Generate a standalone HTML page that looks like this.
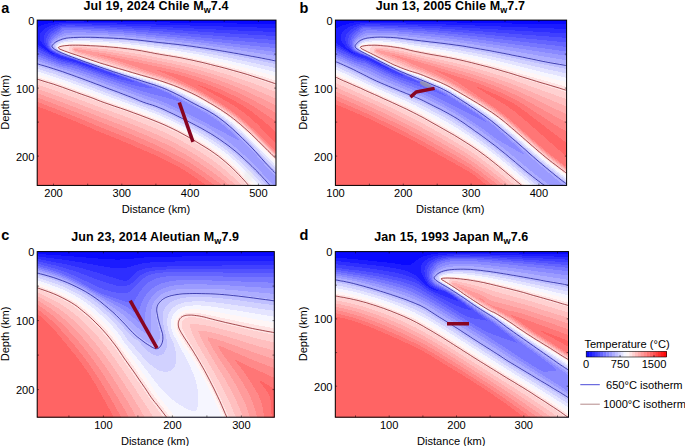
<!DOCTYPE html>
<html><head><meta charset="utf-8"><title>Slab thermal models</title>
<style>
html,body{margin:0;padding:0;background:#fff;overflow:hidden}
svg{display:block}
text{font-family:"Liberation Sans",sans-serif;fill:#000}
.tl{font-size:11.1px}
.al{font-size:11.1px}
.ti{font-size:12.5px;font-weight:bold;letter-spacing:0.11px}
.pl{font-size:14.5px;font-weight:bold}
</style></head><body>
<svg width="685" height="446" viewBox="0 0 685 446">
<defs><filter id="blur" x="-30%" y="-80%" width="160%" height="260%"><feGaussianBlur stdDeviation="0.8"/></filter></defs>
<rect width="685" height="446" fill="#fff"/>
<clipPath id="clipa"><rect x="37.2" y="20.1" width="238.8" height="165.3"/></clipPath>
<g clip-path="url(#clipa)">
<rect x="36.2" y="19.1" width="240.8" height="167.3" fill="#0909ff"/>
<g shape-rendering="crispEdges">
<path fill="#1b1bff" d="M61.9 21.6L71.7 21.4L128.7 21.9L277.2 24.1L277.2 186.6L36.2 186.6L36.2 27.5L42 25.1L47.1 23.6L54.2 22.4L61.9 21.6Z"/>
<path fill="#2e2eff" d="M61.8 23.1L65.7 22.8L71.2 22.8L128.7 23.7L277.2 28.1L277.2 186.6L36.2 186.6L36.2 43.3L48.5 51.6L52.3 53.6L54.7 54.4L54.8 54.1L50.7 51.9L48.2 50L43.1 44.6L41.3 42.1L40 39.6L39.5 37.1L39.7 35.1L40.5 33.1L41.9 31.1L44.2 29.1L46.5 27.6L49.7 26.1L53.2 24.9L57.7 23.8L61.8 23.1ZM55.2 54.5L55.7 54.6L55.2 54.5ZM56.2 55L56.1 55.1L56.7 55.3L57 55.1L56.2 55ZM59.2 56.1L58.9 56.1L59.2 56.1Z"/>
<path fill="#4040ff" d="M66.5 24.1L92.2 24.5L135.7 25.8L230.7 30.2L277.2 32.1L277.2 186.6L36.2 186.6L36.2 45.8L49.5 53.6L53.7 55.6L58.7 57.7L64.7 59.5L72.7 61.3L76.7 62.5L97.1 69.1L98.7 69.4L98.8 69.1L96.2 68.3L93.6 67.1L91.2 66.3L88.6 65.1L78.2 61.4L75.1 60.1L64.2 57L58.2 54.8L54.7 53.2L50.7 50.9L48.5 49.1L46.5 46.6L45.3 44.6L44.4 42.6L43.8 40.6L43.6 39.1L43.8 37.1L44.2 35.6L45.2 33.6L46.3 32.1L47.9 30.6L50 29.1L52.2 27.9L55.2 26.6L58.7 25.3L61.2 24.7L63.7 24.3L66.5 24.1ZM99.2 69.5L99.9 69.6L99.2 69.5Z"/>
<path fill="#5252ff" d="M63.6 25.6L68.7 25.4L81.2 25.6L109.7 26.5L131.7 27.5L160.5 29.1L231.2 33.6L277.2 36.1L277.2 186.6L36.2 186.6L36.2 48.3L53.2 56.8L61.2 60L64.7 61L71.7 62.5L76.7 63.8L102.2 72.3L110.7 74.9L117.9 76.6L119.2 76.7L119.5 76.6L113.9 74.1L85.7 63.6L74.6 59.6L64.7 56.7L59.7 54.9L53.7 52.1L51.7 50.9L50 49.6L48.7 48.1L47.5 46.1L46.9 44.6L46.3 42.6L46.1 40.6L46.3 39.1L46.8 37.1L47.5 35.6L48.5 34.1L49.9 32.6L53.2 30.1L55.8 28.6L60 26.6L61.7 26L63.6 25.6Z"/>
<path fill="#6464ff" d="M62.3 27.1L64.2 26.8L67.7 26.6L81.2 27L109.7 28.1L131.2 29.3L158.7 31.2L231.7 37L277.2 40.1L277.2 186.6L36.2 186.6L36.2 51L52.7 58.4L61.2 61.6L65.2 62.7L71.7 63.8L76.2 65L101.7 73.8L115.2 78L127.2 80.9L133.7 82.1L135.4 82.1L134.7 82L134.4 81.6L128.7 79.1L83.7 62.6L75.2 59.5L61.7 55.2L55.7 52.6L51.7 50.3L50.4 49.1L49.3 47.6L48.6 46.1L48.1 44.6L47.9 43.1L48 41.1L48.8 38.1L50.3 35.6L52.8 33.1L60.3 28.1L62.3 27.1Z"/>
<path fill="#7676ff" d="M62.7 28.1L69.2 27.9L72.7 28.2L81.2 28.3L84.7 28.7L92.2 28.8L95.2 29.1L109.7 29.7L112.7 30L117.2 30.1L131.2 31.1L158.2 33.4L231.7 40.4L277.2 44.2L277.2 186.6L36.2 186.6L36.2 53.4L54.2 61L59.7 63L64.7 64.4L71.7 65.2L76.9 66.6L104.7 76.5L121.2 81.8L132.2 84.8L140.2 86.7L146.2 87.7L152.7 88.5L153.1 88.1L146.3 85.1L128.7 78.6L76.1 59.6L62.2 55L56.2 52.4L53 50.6L50.8 48.6L50.1 47.6L49.5 46.1L49.2 44.6L49.2 43.1L49.4 41.6L49.9 40.1L51.2 37.8L53.2 35.5L55.2 33.9L60 30.6L61 29.6L61.8 28.6L62.7 28.1Z"/>
<path fill="#8989ff" d="M65.2 30.1L68.7 29.8L71.7 30L80.7 30L84.2 30.4L91.2 30.5L94.2 30.9L100.2 31L103.2 31.3L116.7 31.9L119.2 32.3L123.7 32.4L126.2 32.8L136.2 33.5L176.7 37.5L240.7 44.6L277.2 48.2L277.2 186.6L36.2 186.6L36.2 55.8L58.7 64.5L63.2 65.8L71.2 67.4L77.7 69.2L113.2 81.7L139.2 90.4L147.2 92.7L162.7 96.6L176.2 100.5L181.2 101.7L181.7 101.8L182.3 101.6L177.2 98.1L168.9 93.6L163.7 91.2L156.4 88.1L95.2 66.3L76.2 59.4L64.7 55.5L59.9 53.6L54.2 50.8L51.7 48.9L50.8 47.6L50.4 46.6L50.2 45.1L50.2 43.6L51.2 40.9L52.8 38.6L55.2 36.3L63.2 31L65.2 30.1Z"/>
<path fill="#9b9bff" d="M68 32.6L79.2 32.3L89.7 32.6L116.2 33.9L135.7 35.5L176.2 39.6L195.7 41.8L277.2 52.2L277.2 186.6L36.2 186.6L36.2 58.2L58.7 66.3L63.2 67.6L72.7 70L80.2 72.5L143.2 95L156.2 99.3L164.7 102.6L177.2 108.5L194.2 117L207.2 123.7L215 128.1L225.8 133.6L237.2 139.8L239.2 140.8L239.3 140.6L239.2 140.1L234 134.6L226.7 127.9L218.2 121.1L213.2 117.6L206.9 113.6L202.6 111.1L189.7 104.2L177.5 97.1L168.2 92.3L163.7 90.3L156.2 87.3L103.8 69.1L64.7 55.1L59.8 53.1L54.2 50.3L52.6 49.1L51.7 48.1L51.2 47.1L51 46.1L50.9 45.1L51.2 43.7L51.7 42.5L52.7 41L55.2 38.5L59.2 35.9L64.2 33.5L66.2 32.9L68 32.6Z"/>
<path fill="#adadff" d="M76.5 34.6L80.7 34.5L88.7 34.6L105.2 35.3L123.2 36.3L139.7 37.8L171.2 41.2L195.7 44.1L213.2 46.5L244.7 51.1L277.2 56.2L277.2 178.2L265.9 166.1L250.4 148.6L243.7 141.8L235.2 133.7L227.7 126.9L222.2 122.5L215.2 117.4L207.2 112.3L190.7 103.5L176.2 95.4L168.2 91.4L163.2 89.2L154.7 86L134 79.1L100.7 67.7L72.5 57.6L61.9 53.6L54.2 49.7L52.7 48.5L52 47.6L51.6 46.6L51.6 45.1L52.2 43.7L53.2 42.3L54.2 41.2L55.7 40L60.2 37.5L65.2 35.7L69.2 34.9L76.5 34.6ZM36.2 60.6L58.7 68.1L70.3 71.6L80.2 74.9L127.3 92.1L142.7 97.9L158.7 103.4L164.2 105.7L170.7 108.6L185.7 116L198.7 122.7L207.2 127.4L217.2 133.6L227.7 141.2L235.2 147.2L242 153.1L251.7 162.4L266 177.1L267.7 179.1L272.1 183.6L274.7 186.6L36.2 186.6L36.2 60.6Z"/>
<path fill="#bfbfff" d="M70.2 37.1L76.2 37L79.2 36.6L88.2 36.6L92.7 37.1L104.7 37.2L108.2 37.6L115.2 37.7L117.7 38.1L123.2 38.2L125.7 38.6L129.2 38.7L131.7 39.1L134.7 39.2L136.7 39.6L139.7 39.7L145.7 40.6L148.2 40.7L163.7 42.6L166.7 42.7L173.2 43.6L175.7 43.7L198.7 46.7L220.8 50.1L257.7 56.5L277.2 60.2L277.2 175.6L267.7 165.9L257.7 154.5L250.2 146.4L243.7 139.9L232.8 129.6L228.3 125.6L219.2 118.4L208.7 111.6L202.7 108.3L190.7 102.2L183.2 97.9L176.2 94.2L168.2 90.4L163.7 88.4L155.2 85.3L122.3 74.6L91.8 64.1L65.7 54.6L58.7 51.6L55.1 49.6L52.8 47.6L52.3 46.1L52.7 44.7L55.1 42.1L58.7 40L61.7 38.8L65.7 37.7L70.2 37.1ZM36.2 63.1L36.2 62.9L42.7 64.8L68.7 73.3L90.7 81.2L109.7 88.5L125.2 94.1L143.2 101.3L156.3 105.6L161.3 107.6L168 110.6L190.4 121.6L205.2 129.5L211.3 133.1L219.8 138.6L231.2 147L240.3 154.6L245.2 159L251.7 165.3L264.2 178.1L265.9 180.1L271.9 186.6L36.2 186.6L36.2 63.1Z"/>
<path fill="#d1d1ff" d="M76.9 38.6L80.7 38.3L87.7 38.3L92.2 38.7L103.7 38.9L107.2 39.2L114.2 39.5L122.2 40L134.2 41.1L175.2 46L197.7 49.2L220.2 53L242.1 57.1L277.2 64.4L277.2 172.7L267.7 163L257.4 151.6L249.4 143.1L235.3 129.6L229.6 124.6L219.7 116.9L215.2 113.9L207.2 109.1L181.8 95.6L170.5 90.1L163.2 87.1L154.2 83.9L123.7 74.3L97.2 65.5L67.1 54.6L62.7 52.8L57.7 50.4L55.5 48.6L54.9 47.6L54.6 46.6L54.8 45.6L55.2 44.6L56.1 43.6L57.7 42.3L59.2 41.5L61.2 40.7L66.2 39.4L70.7 38.8L76.9 38.6ZM36.2 66.1L36.2 65.6L47.7 69.2L57.7 72.4L69.7 76.5L125.2 97.1L144.2 104.5L156.2 108.7L164.2 112L174.2 116.7L191.2 125.2L204.2 132.3L212.7 137.5L222.6 144.1L231.2 150.6L241.1 159.1L249.6 167.1L255 172.6L268.1 186.6L36.2 186.6L36.2 66.1Z"/>
<path fill="#e4e4ff" d="M72.4 40.1L80.7 39.8L87.2 39.9L103.2 40.5L121.7 41.7L138.2 43.4L176.2 48.4L199.2 52L221.7 56.2L248.7 61.9L277.2 68.5L277.2 170L269.2 161.8L250.2 141.6L235.8 128.1L229.4 122.6L220.7 116L213.3 111.1L206.7 107.3L183.2 94.8L172.1 89.6L165.7 87L154.8 83.1L123.7 73.4L97.7 64.9L67.2 54.1L62.7 52.2L58.2 50.1L56.6 48.6L56 47.1L56.2 46.1L56.6 45.1L58.2 43.5L60.7 42.2L64.2 41.2L67.7 40.5L72.4 40.1ZM36.2 68.6L36.2 68.4L53.2 73.7L68.7 79L90.7 87L141.2 105.9L154.2 110.6L161.2 113.5L168.2 116.6L176.7 120.6L186.7 125.7L199.2 132.4L209.2 138.3L219.2 144.9L227.7 151.2L236.5 158.6L245.6 167.1L252.2 173.7L264.3 186.6L36.2 186.6L36.2 68.6Z"/>
<path fill="#f6f6ff" d="M70.4 41.6L80.2 41.3L87.2 41.4L102.7 42.1L120.2 43.3L138.2 45.3L176.2 50.7L199.2 54.6L225.2 59.9L249.9 65.6L277.2 72.6L277.2 167.3L251.2 140.4L238.6 128.6L231.7 122.6L225.7 117.9L219.7 113.6L213.2 109.5L199.7 101.9L187.2 95.4L177.2 90.6L168.2 86.8L155.2 82.2L123.2 72.4L98.2 64.4L68.2 53.9L59.7 50.4L58.2 49.5L57 48.1L57 46.6L57.6 45.6L58.2 44.9L60.2 43.7L62.7 42.8L66.2 42.1L70.4 41.6ZM36.2 71.6L36.2 71.1L53.7 76.6L65.3 80.6L91.2 90L150.7 112L157.7 114.7L165.2 117.9L173.7 121.9L182.7 126.4L195.2 133.1L206.4 139.6L216.2 146L224.7 152.2L232.5 158.6L240.7 166.1L248.7 174.1L260.5 186.6L36.2 186.6L36.2 71.6Z"/>
<path fill="#fff6f6" d="M68.6 43.1L73.2 42.8L82.2 42.7L101.2 43.5L118.7 44.8L138.2 47.1L176.2 53L198.8 57.1L226 63.1L249.9 69.1L277.2 76.8L277.2 164.6L251.7 138.6L239.2 127.1L232.8 121.6L225.2 115.8L218.7 111.3L211.2 106.7L199.2 100L189.2 94.8L179.7 90.3L170.2 86.4L160.7 82.9L154.7 81L124.2 71.8L98.2 63.7L68.2 53.4L61.3 50.6L58.7 49.3L57.9 48.6L57.5 47.6L57.7 46.9L58.2 46.2L59.7 45.1L61.7 44.3L64.2 43.7L68.6 43.1ZM36.2 74.1L36.2 73.9L49.7 78.1L63.7 82.8L146.7 113.1L155.2 116.4L162.7 119.5L171.7 123.6L180.7 128L192.9 134.6L204.8 141.6L214.7 148L222.7 153.8L229.7 159.6L238 167.1L245.9 175.1L256.6 186.6L36.2 186.6L36.2 74.1Z"/>
<path fill="#ffe4e4" d="M76.2 44.1L81.7 44.1L84.7 44.4L92.7 44.6L96.2 44.9L101.2 45L123.2 47L141.7 49.4L158.2 52.4L183.5 56.6L203.7 60.8L231.7 67.6L253.2 73.6L277.2 81L277.2 162L251.7 136.3L240.7 126.3L234.5 121.1L226.2 114.8L219.2 110L212.2 105.7L199.7 98.6L190.7 94L180.7 89.4L172.7 86.1L161.2 82L154.7 79.9L129.7 72.6L98.6 63.1L69.2 53.1L61.4 50.1L58.7 48.7L58.2 48.1L58.2 47.4L58.7 46.7L60.2 45.9L64.2 44.9L70.2 44.2L76.2 44.1ZM36.2 77.1L36.2 76.7L50.2 81L61.7 84.9L89.7 94.9L106.7 101.3L141.2 113.6L160.7 121.3L170.4 125.6L179.2 130L191.4 136.6L206.2 145.4L215.2 151.4L221.7 156.2L228.2 161.6L235.8 168.6L244.9 178.1L252.7 186.6L36.2 186.6L36.2 77.1Z"/>
<path fill="#ffd1d1" d="M73.7 45.6L80.7 45.5L84.2 45.9L93.2 46.2L95.2 46.5L100.7 46.7L103.2 47.1L107.7 47.3L109.7 47.6L113.2 47.8L119.7 48.7L122.7 48.9L131.2 50L140.7 51.5L160.2 55.2L171.7 57.1L179.7 58.6L196.7 62.2L205.2 64.3L228.7 70.4L242.7 74.5L253.9 78.1L277.2 86.1L277.2 159.4L252.2 134.6L242.2 125.5L233.3 118.1L227.7 114L218.8 108.1L212.3 104.1L201.7 98L195.4 94.6L186.9 90.6L182.4 88.6L172.2 84.5L160.2 80.4L150.7 77.4L132.1 72.1L105.2 64L73.2 53.5L71.3 52.6L69.8 51.6L68.9 50.6L68.4 49.1L68.9 47.6L70 46.6L71.2 46.1L73.7 45.6ZM36.2 80.1L58.7 87.3L93.7 100L106.2 104.7L122.2 110.2L141.1 117.1L161.2 125.2L175.7 132L183.2 135.9L196.2 143.4L208.7 151.2L216.7 156.8L224.2 162.7L230.2 168L238.5 176.1L248.3 186.6L36.2 186.6L36.2 80.1Z"/>
<path fill="#ffbfbf" d="M74.3 47.1L76.2 46.8L78.7 46.9L92.2 47.9L107.2 49.4L123.2 51.5L140.7 54.4L172.7 60.5L184.7 63L195.7 65.6L207.2 68.6L230.2 75.4L250 82.1L277.2 92.5L277.2 158L253.2 134.2L242.7 124.6L234.2 117.6L228.2 113.2L219.7 107.5L212.7 103.2L201.7 96.8L196.2 93.9L187.7 89.8L180.2 86.5L170.7 82.7L152.2 76.6L131.7 70.5L115.7 65.3L75.2 52.9L73.7 52.2L72.9 51.6L72.5 51.1L72 50.1L72 49.1L72.6 48.1L73.2 47.6L74.3 47.1ZM36.2 84.6L36.2 84.3L57.7 91.5L104.2 108.8L132.4 119.1L153.7 127.6L162.7 131.5L171.2 135.5L181.2 140.7L192.2 146.9L202.7 153.4L211.2 159.1L219.2 165.1L226.7 171.3L234.2 178L243.1 186.6L36.2 186.6L36.2 84.6Z"/>
<path fill="#ffadad" d="M74 48.6L75.2 48.2L77.7 48.1L90.2 49.4L106.7 51.5L120.7 53.7L137.3 56.6L168.7 62.8L186.7 66.9L197.7 69.7L209.2 73L220.5 76.6L230.8 80.1L249.2 87.1L277.2 99.1L277.2 156.7L256.7 136.4L249.1 129.1L243.2 123.9L234.7 116.8L228.2 112.1L219.7 106.4L205.7 98L197.2 93.3L188.2 88.9L179.7 85.1L172.2 82.1L160.2 77.9L126.7 67.5L114.7 63.3L75.7 51.9L74.2 51.2L73.6 50.6L73.3 49.6L73.5 49.1L74 48.6ZM36.2 88.6L49.2 93L62.2 97.7L130.5 123.6L151.2 132L167.7 139.5L177.2 144.3L187.2 149.8L196.2 155.2L204.7 160.7L212.7 166.3L220.7 172.4L228.7 179L237.5 186.6L36.2 186.6L36.2 88.6Z"/>
<path fill="#ff9b9b" d="M74.3 49.6L74.7 49.3L75.2 49.3L77.2 49.4L87.2 50.7L106.2 53.6L120.2 56.1L137.2 59.4L170.2 66.3L180.2 68.6L190.2 71.2L201.7 74.6L212.6 78.1L222.7 81.6L233.1 85.6L241.7 89.2L250.4 93.1L277.2 106L277.2 155.5L257.7 136.1L250.4 129.1L244.3 123.6L235.9 116.6L229.1 111.6L219.2 104.9L205.7 96.9L197.2 92.2L188.7 87.9L178.7 83.6L172.2 80.9L160.2 76.7L127.1 66.1L122.2 64.4L119.7 63.2L116.7 62.1L95.7 56.1L77.2 51.3L74.7 50.4L74.4 50.1L74.3 49.6ZM36.2 93.1L36.2 92.8L39.8 94.1L61.7 102.1L125.7 126.9L147.2 135.7L164.2 143.3L173.2 147.8L181.7 152.3L189.7 156.9L197.2 161.6L205.2 167L213.7 173L222.2 179.4L231.2 186.6L36.2 186.6L36.2 93.1Z"/>
<path fill="#ff8989" d="M97.1 54.6L98.7 54.4L105.2 55.5L126.7 59.9L170.2 69.4L179.7 71.7L188.7 74.3L207.7 80.4L224.2 86.6L232.5 90.1L240.7 93.9L248.3 97.6L255.8 101.6L277.2 113.6L277.2 154.2L251.2 128.6L245.7 123.6L238.7 117.7L233.5 113.6L223.2 106.4L216.2 102L202.2 93.7L194.7 89.7L188.7 86.8L181.2 83.4L172.7 79.9L156.2 73.9L122.7 62.4L120.2 61.4L112.7 59.1L97.1 54.6ZM36.2 97.6L36.2 97.1L41.2 98.9L76.7 112.5L133.7 135.3L148.2 141.5L160.2 146.9L176.7 155.2L184.2 159.3L190.7 163.2L204.7 172.5L224.3 186.6L36.2 186.6L36.2 97.6Z"/>
<path fill="#ff7676" d="M155.2 69.6L156.9 69.6L168.7 72.1L184.2 76.3L194.7 79.7L204.2 83L212.4 86.1L220.2 89.3L234.9 96.1L241.7 99.6L247.7 102.9L257.7 109.1L277.2 122.3L277.2 152.9L251.7 127.7L249.2 125.6L246.2 122.7L239.7 117.1L234.7 113.2L225.2 106.4L219.2 102.5L203.2 92.8L191.7 86.3L186.2 83.4L172.7 76.9L164.7 73.4L157.3 70.6L156.2 70.1L155.7 69.7L155.2 69.6ZM36.2 101.6L36.2 101.4L46.7 105.4L75.2 116.6L97.2 125.8L131.7 139.7L147.2 146.4L158.2 151.3L174.7 159.6L186.7 166.2L194.7 171.4L216.8 186.6L36.2 186.6L36.2 101.6Z"/>
<path fill="#ff6464" d="M197.7 85.1L198.2 84.9L199 85.1L207.2 88L215.7 91.6L226.2 96.6L235.7 101.5L242.2 105.2L245.3 107.1L252.5 112.1L263.1 120.6L277.2 133L277.2 144.8L257.2 124.1L250 117.6L243.2 112.1L236.1 107.1L228.8 102.6L197.7 85.1ZM36.2 106.1L36.2 105.8L36.7 106L74.2 120.9L97.2 130.8L125.7 142.4L155.2 155.2L175.7 165.4L185.2 170.6L203.2 183.1L208.6 186.6L36.2 186.6L36.2 106.1Z"/>
</g>
<path d="M275.7 60.9L275.3 60.8L274.4 60.7L273.0 60.4L271.3 60.0L268.8 59.5L265.6 58.9L261.7 58.1L257.0 57.2L252.3 56.4L247.7 55.5L243.0 54.7L238.4 53.8L233.7 53.0L229.1 52.2L224.4 51.4L219.8 50.6L215.1 49.8L210.5 49.1L205.8 48.3L201.2 47.7L196.5 47.0L191.9 46.3L187.2 45.7L182.6 45.1L177.9 44.5L173.3 44.0L168.6 43.5L164.0 43.0L158.8 42.5L153.1 41.8L146.9 41.1L140.1 40.3L133.9 39.7L128.2 39.2L123.0 38.7L118.4 38.5L113.7 38.2L109.1 38.0L104.4 37.8L99.8 37.6L95.1 37.4L90.5 37.3L85.8 37.3L81.2 37.3L77.1 37.4L73.6 37.5L70.7 37.7L68.4 37.9L66.2 38.2L64.1 38.7L62.1 39.2L60.3 39.9L58.6 40.6L57.1 41.3L55.7 42.1L54.6 42.9L53.6 43.8L52.9 44.6L52.3 45.4L52.0 46.2L52.2 47.0L53.1 48.0L54.4 49.1L56.4 50.3L58.8 51.5L61.6 52.8L64.9 54.2L68.6 55.7L72.6 57.2L76.8 58.8L81.2 60.4L85.8 62.1L90.5 63.7L95.1 65.3L99.8 67.0L104.4 68.6L109.1 70.2L113.7 71.8L118.4 73.3L123.0 74.9L127.7 76.4L132.3 77.9L137.0 79.4L141.7 80.9L145.7 82.2L149.0 83.2L151.8 84.1L153.9 84.7L156.1 85.5L158.6 86.4L161.2 87.3L164.0 88.4L166.9 89.6L169.9 91.0L173.0 92.4L176.3 94.1L179.4 95.6L182.3 97.2L185.0 98.7L187.6 100.1L190.8 101.9L194.8 104.0L199.4 106.4L204.8 109.1L209.7 111.8L214.3 114.6L218.4 117.4L222.1 120.2L225.7 123.0L229.2 126.0L232.6 128.9L235.8 132.0L239.1 135.0L242.3 138.2L245.6 141.4L248.9 144.6L252.1 148.0L255.4 151.5L258.6 155.1L261.9 158.8L264.9 162.2L267.6 165.1L270.1 167.7L272.3 170.0L274.0 171.7L275.1 172.8L275.7 173.3" fill="none" stroke="#16169a" stroke-width="0.75"/>
<path d="M37.0 63.7L38.2 64.1L40.5 64.8L44.0 65.8L48.6 67.2L53.3 68.7L57.9 70.2L62.6 71.7L67.2 73.4L71.9 75.0L76.5 76.7L81.2 78.4L85.8 80.1L90.5 81.8L95.1 83.6L99.8 85.3L104.4 87.1L109.1 88.9L113.7 90.6L118.4 92.3L123.0 94.1L127.5 95.8L131.7 97.4L135.6 99.0L139.3 100.6L142.9 102.0L146.2 103.2L149.4 104.2L152.5 105.1L155.9 106.3L159.7 107.8L164.0 109.6L168.6 111.8L173.3 114.0L177.9 116.3L182.6 118.6L187.2 120.9L191.9 123.3L196.5 125.7L201.2 128.2L205.8 130.8L210.5 133.5L215.1 136.4L219.8 139.5L224.4 142.8L228.9 146.0L233.0 149.3L237.0 152.5L240.7 155.8L244.4 159.2L248.2 162.7L251.9 166.3L255.6 170.0L259.0 173.4L262.0 176.6L264.7 179.5L267.0 182.1L268.7 184.0L269.9 185.3L270.5 186.0" fill="none" stroke="#16169a" stroke-width="0.75"/>
<path d="M275.7 83.8L275.3 83.7L274.4 83.4L273.0 82.9L271.3 82.3L268.8 81.5L265.6 80.4L261.7 79.1L257.0 77.6L252.3 76.1L247.7 74.6L243.0 73.2L238.4 71.9L233.7 70.6L229.1 69.3L224.4 68.0L219.8 66.8L215.1 65.7L210.5 64.5L205.8 63.3L201.2 62.2L196.5 61.2L191.9 60.1L187.2 59.2L182.6 58.2L177.9 57.3L173.3 56.5L168.6 55.7L164.0 55.0L159.4 54.2L154.8 53.4L150.4 52.5L146.0 51.7L141.5 50.8L136.9 50.1L132.3 49.4L127.7 48.8L123.0 48.3L118.4 47.7L113.7 47.3L109.1 46.9L104.4 46.5L99.8 46.2L95.1 45.9L90.5 45.7L86.2 45.5L82.2 45.3L78.6 45.2L75.4 45.2L72.3 45.2L69.6 45.3L67.0 45.5L64.7 45.7L62.7 46.0L61.0 46.3L59.7 46.7L58.6 47.2L58.3 47.8L58.8 48.4L60.0 49.2L62.0 50.0L64.6 51.0L67.9 52.2L71.9 53.6L76.5 55.1L81.2 56.7L85.8 58.2L90.5 59.8L95.1 61.3L99.8 62.9L104.4 64.3L109.1 65.7L113.7 67.1L118.4 68.5L123.0 69.8L127.7 71.2L132.3 72.6L136.9 73.9L141.5 75.3L146.0 76.5L150.4 77.8L154.8 79.1L159.4 80.5L164.0 82.0L168.6 83.6L173.3 85.3L177.9 87.1L182.6 89.1L187.2 91.1L191.7 93.2L195.8 95.2L199.8 97.3L203.5 99.4L207.1 101.5L210.6 103.5L214.0 105.5L217.2 107.5L220.5 109.5L223.7 111.7L227.0 113.9L230.3 116.3L233.6 118.8L237.1 121.6L240.7 124.6L244.4 127.9L248.0 131.1L251.5 134.4L254.9 137.7L258.2 140.9L261.4 144.1L264.6 147.3L267.8 150.5L271.0 153.6L273.3 155.9L274.9 157.5L275.7 158.3" fill="none" stroke="#86161c" stroke-width="0.75"/>
<path d="M37.0 79.2L38.2 79.5L40.5 80.2L44.0 81.3L48.6 82.7L53.3 84.1L57.9 85.7L62.6 87.3L67.2 89.0L71.9 90.7L76.5 92.4L81.2 94.1L85.8 95.7L90.1 97.2L93.9 98.6L97.3 100.0L100.4 101.2L104.2 102.6L108.9 104.2L114.3 106.1L120.6 108.2L127.0 110.4L133.5 112.8L140.1 115.2L146.9 117.8L153.1 120.2L158.8 122.5L164.0 124.7L168.6 126.8L173.2 129.0L177.6 131.2L181.9 133.5L186.1 135.8L190.5 138.3L195.1 141.0L200.0 144.0L205.1 147.1L209.9 150.1L214.3 153.2L218.4 156.1L222.1 159.1L225.7 162.1L229.2 165.2L232.6 168.3L235.8 171.6L238.8 174.6L241.5 177.5L243.9 180.0L246.0 182.4L247.5 184.2L248.6 185.4L249.1 186.0" fill="none" stroke="#86161c" stroke-width="0.75"/>
<ellipse cx="248.5" cy="176" rx="4.5" ry="5.5" filter="url(#blur)" fill="#e9e9ea" opacity="0.55"/>
<path d="M179.3 102.5L193.0 141.8" fill="none" stroke="#880420" stroke-width="3.5" stroke-linejoin="round"/>
</g>
<rect x="37.2" y="20.1" width="238.8" height="165.3" fill="none" stroke="#000" stroke-width="1"/>
<path d="M53.5 185.4 v-1.8 M53.5 20.1 v1.8 M87.7 185.4 v-1.8 M87.7 20.1 v1.8 M121.8 185.4 v-1.8 M121.8 20.1 v1.8 M155.9 185.4 v-1.8 M155.9 20.1 v1.8 M190.1 185.4 v-1.8 M190.1 20.1 v1.8 M224.2 185.4 v-1.8 M224.2 20.1 v1.8 M258.4 185.4 v-1.8 M258.4 20.1 v1.8 M37.2 54.1 h1.8 M276.0 54.1 h-1.8 M37.2 88.1 h1.8 M276.0 88.1 h-1.8 M37.2 122.1 h1.8 M276.0 122.1 h-1.8 M37.2 156.1 h1.8 M276.0 156.1 h-1.8" stroke="#000" stroke-width="0.5" fill="none"/>
<text x="53.5" y="196.9" text-anchor="middle" class="tl">200</text>
<text x="121.8" y="196.9" text-anchor="middle" class="tl">300</text>
<text x="190.1" y="196.9" text-anchor="middle" class="tl">400</text>
<text x="258.4" y="196.9" text-anchor="middle" class="tl">500</text>
<text x="34.4" y="24.6" text-anchor="end" class="tl">0</text>
<text x="34.4" y="92.6" text-anchor="end" class="tl">100</text>
<text x="34.4" y="160.6" text-anchor="end" class="tl">200</text>
<text x="155.9" y="212.7" text-anchor="middle" class="al">Distance (km)</text>
<text transform="translate(8.7 102.2) rotate(-90)" text-anchor="middle" class="al">Depth (km)</text>
<text x="156.0" y="9.7" text-anchor="middle" class="ti">Jul 19, 2024 Chile M<tspan dy="2.8" font-size="9">w</tspan><tspan dy="-2.8">7.4</tspan></text>
<clipPath id="clipb"><rect x="335.4" y="20.1" width="231.2" height="165.3"/></clipPath>
<g clip-path="url(#clipb)">
<rect x="334.4" y="19.1" width="233.2" height="167.3" fill="#0909ff"/>
<g shape-rendering="crispEdges">
<path fill="#1b1bff" d="M363.8 21.6L380.9 21.6L434.9 22.1L567.4 24.5L567.4 186.6L334.4 186.6L334.4 29.1L342.2 25.6L347.9 23.8L355.4 22.3L363.8 21.6Z"/>
<path fill="#2e2eff" d="M363.5 23.1L368.9 22.9L380.9 23L434.9 24.1L471.9 25.4L567.4 29L567.4 186.6L334.4 186.6L334.4 42.1L345.1 49.1L349.5 51.6L351.6 52.6L353.9 53.3L355.7 54.1L356.9 54.2L353.9 53L349.9 50.5L347 48.1L344.6 45.6L342.6 43.1L341.3 40.6L340.7 38.1L340.8 36.1L341.7 33.6L343.1 31.6L345.1 29.6L348.1 27.6L351.4 26L355.5 24.6L359.7 23.6L363.5 23.1ZM357.4 54.5L357.2 54.6L357.9 54.7L358.2 54.6L357.4 54.5Z"/>
<path fill="#4040ff" d="M363.1 24.6L368.4 24.3L380.4 24.5L408.9 25.2L434.4 26.1L471.4 28L567.4 33.5L567.4 186.6L334.4 186.6L334.4 44.3L345 50.6L350.9 53.7L356.9 56.1L364.4 58.4L368.9 60L382.8 66.6L390.9 70L391 69.6L390.1 69.1L368.6 57.6L366.3 56.6L358.4 53.8L353.9 51.8L352 50.6L350.1 49.1L348.7 47.6L347.2 45.6L346.2 43.6L345.6 42.1L345.2 39.1L345.3 37.6L345.7 36.1L346.3 34.6L347.2 33.1L348.5 31.6L350.2 30.1L353.9 27.7L358.8 25.6L363.1 24.6ZM391.4 70L390.9 70.1L391.4 70.2L391.6 70.1L391.4 70Z"/>
<path fill="#5252ff" d="M362.5 26.1L367.9 25.7L380.4 25.9L408.9 26.9L433.9 28.1L470.9 30.6L567.4 37.9L567.4 186.6L334.4 186.6L334.4 46.5L347.9 53.7L354.4 56.6L357.9 58L364.4 59.9L367.9 61.2L383.9 68.8L393.9 73.2L401.4 75.7L403.4 76.1L404.2 76.1L401.1 74.1L399.4 73.4L368.4 57.1L359.9 53.9L355.4 51.9L353.3 50.6L351.1 48.6L350 47.1L349.2 45.6L348.2 42.6L348 40.6L348.1 39.1L349.1 36.1L349.9 34.6L351.1 33.1L353.9 30.6L358.9 27.4L360.7 26.6L362.5 26.1Z"/>
<path fill="#6464ff" d="M364.9 27.1L369.9 27L400.4 28.1L421.9 29.3L437.9 30.4L470.4 33.1L567.4 42.5L567.4 186.6L334.4 186.6L334.4 49L340.4 52.1L350.1 56.6L357.4 59.5L364.4 61.4L367.9 62.8L382.4 69.8L393.9 75L400.4 77.4L408.4 80L419.4 83.1L420.4 83.3L420.7 83.1L419.2 82.1L415.2 80.1L399.4 72.8L386.4 66.3L368.9 57L357 52.1L354.9 50.9L353.2 49.6L352 48.1L351.1 46.6L350.2 43.6L350.1 41.6L350.3 40.1L351.4 37.1L352.6 35.1L354.4 33.2L360.1 28.6L361.9 27.6L364.9 27.1Z"/>
<path fill="#7676ff" d="M362.3 28.6L364.9 28.4L369.9 28.3L372.9 28.7L380.9 28.8L383.9 29.1L400.4 29.7L403.4 30L408.4 30.2L421.9 31.1L432.9 32L469.4 35.6L567.4 47L567.4 186.6L334.4 186.6L334.4 51.3L347.9 57.7L354.4 60.5L359.4 62.2L361.4 62.7L364.4 63L367.4 64.1L377.9 69.4L386.9 73.7L392.9 76.5L399.4 79.1L408.4 82.4L431.9 90.6L445.6 96.1L446.4 96.3L446.8 96.1L441.3 92.6L426.1 84.6L419.9 81.6L399.4 72.5L385.9 65.7L369.4 57L359.2 52.6L356.4 51.2L354.8 50.1L353 48.1L351.9 45.6L351.6 43.1L352.2 40.1L353.4 37.7L354.9 35.7L360 31.1L361.5 29.1L362.3 28.6Z"/>
<path fill="#8989ff" d="M364.9 30.6L368.9 30.2L390.4 31L392.9 31.3L399.4 31.5L402.4 31.9L407.4 32L409.9 32.4L414.4 32.6L428.4 33.9L432.4 34.2L455.9 36.7L476.9 39.3L567.4 51.6L567.4 186.6L334.4 186.6L334.4 53.6L345.9 59L353.4 62.2L357.9 63.9L364.4 65.9L367.4 67L382.4 74.2L394.6 79.6L402.4 82.9L418.9 89.4L431 94.6L447.4 102.5L478.4 118.4L484.4 121.2L485.9 121.7L486.4 121.6L485 120.1L483 118.6L477 114.1L470.4 109.6L454.9 99.6L443.4 92.6L430.5 86.1L421 81.6L399.4 72.1L386.4 65.7L370.9 57.4L360.2 52.6L355.7 50.1L354.6 49.1L353.8 48.1L353 46.1L352.9 43.6L353.2 42.1L353.8 40.6L355.3 38.1L357.4 35.9L362.9 31.6L363.9 30.9L364.9 30.6Z"/>
<path fill="#9b9bff" d="M373.5 32.6L378.9 32.6L387.9 32.9L399.4 33.6L431.9 36.6L454.9 39.2L488.4 43.8L567.4 55.9L567.4 186.6L334.4 186.6L334.4 55.8L351.4 63.5L366.6 69.6L379.9 75.9L387.9 79.5L419.9 92.8L430.4 97.7L438.9 102L452.9 109.5L466.9 118.1L478.4 125.8L484.9 130.3L495.3 138.1L498.9 140.5L522.4 153.9L523.9 154.6L524.5 154.6L523.9 153.6L522.1 151.6L519.9 149.7L517.4 147.1L515.9 145.9L513.1 143.1L507.4 138L497.3 128.6L489.5 122.1L485.4 118.9L477.9 113.6L470.4 108.5L449.9 95.4L443.4 91.6L436.9 88.4L421.4 81.3L404.5 74.1L392.9 68.6L371.4 57.4L360.4 52.2L355.9 49.6L354.9 48.6L354.3 47.6L353.9 46.1L353.8 44.6L354.2 43.1L354.9 41.4L355.9 39.9L357.4 38.3L360.9 35.7L364.9 33.6L368.4 32.9L373.5 32.6Z"/>
<path fill="#adadff" d="M369.3 35.1L374.4 34.7L378.9 34.6L387.4 34.8L395.9 35.4L412.9 37L454.4 41.7L467.9 43.6L492.9 47.5L546.4 56.9L567.4 60.3L567.4 186.6L565.1 186.6L554.9 178.1L537.4 163.1L514.1 142.1L494.7 125.1L485.9 118.3L477.9 112.6L466.4 104.8L449.9 94.3L442.9 90.4L421.9 80.9L399.9 71.6L386.6 65.1L368.9 55.8L361.1 52.1L356.4 49.3L355.4 48.4L354.9 47.6L354.6 45.6L355.1 43.6L356.9 40.9L359.4 38.7L362.4 37L365.9 35.8L369.3 35.1ZM334.4 58.6L334.4 58.1L362.5 70.6L377.9 77.9L385.4 81.3L421.4 96.3L440.4 105.7L454.4 113.3L462.9 118.6L469 122.6L478.4 129.1L488.4 136.4L502.9 147.6L532.4 172.1L543.4 180.6L551.6 186.6L334.4 186.6L334.4 58.6Z"/>
<path fill="#bfbfff" d="M371 37.1L375.4 36.7L383.9 36.7L387.9 36.7L390.4 37.1L395.4 37.2L397.4 37.6L404.4 38.2L426.4 41L437.9 42.1L457.4 44.6L493.4 50.6L546.4 61L567.4 64.7L567.4 185.4L556 176.6L538.6 162.1L515.6 141.6L495.4 124.3L486.4 117.4L478.4 111.7L466.9 104L449.9 93.2L442.9 89.4L421.9 80.3L404.4 73.1L393.5 68.1L368.9 55.4L361.2 51.6L357.2 49.1L355.7 47.6L355.4 46.6L355.4 45.6L355.9 44.2L356.3 43.6L358.4 41.4L360.9 39.6L364.4 38.3L366.9 37.7L371 37.1ZM334.4 60.6L334.4 60.4L336.9 61.5L350.6 67.6L377.4 80.7L391.4 86.7L412.4 95.1L420.4 98.6L442.4 109.6L453.4 115.6L462.9 121.6L473 128.6L483.9 136.4L493.9 143.9L511.4 157.9L529.4 173.1L542.4 183.1L547.2 186.6L334.4 186.6L334.4 60.6Z"/>
<path fill="#d1d1ff" d="M373.5 38.6L376.9 38.3L384.4 38.4L394.9 39.1L445.4 45.6L459.9 47.7L491.4 53.4L549.4 65.7L567.4 69.2L567.4 183L560.2 177.6L543.4 164L536.9 158.5L516.9 140.8L499.9 126.3L494.1 121.6L478.9 110.5L463.9 100.7L450.1 92.1L442.7 88.1L421.4 79.2L405.4 72.8L396.8 69.1L384.4 63L361.9 51.4L359.2 49.6L357.6 48.1L357.2 47.1L357.1 46.1L357.3 45.1L357.9 44.1L359.9 42.2L362.4 40.8L366.4 39.5L370.4 38.8L373.5 38.6ZM334.4 63.6L334.4 63.3L347.9 69.3L371.9 81L378.4 84L418.4 100.9L428.9 106L442.4 113L452.4 118.6L465.4 126.9L477.9 135.6L487.4 142.5L497.9 150.6L506 157.1L526.4 174.1L537.9 183.2L542.5 186.6L334.4 186.6L334.4 63.6Z"/>
<path fill="#e4e4ff" d="M372 40.1L376.9 39.8L383.4 39.9L395.9 40.9L445.9 48.1L459.9 50.3L475.4 53.2L492.9 56.7L510.9 60.8L547.4 69.3L567.4 73.6L567.4 181.1L560.4 175.8L543.9 162.6L537.4 157.1L514.4 136.9L496.2 121.6L488.8 116.1L479.5 109.6L465.6 100.6L450.4 91.3L443.4 87.5L421.4 78.3L405.9 72.3L396.9 68.5L381.9 61.1L360.7 50.1L359 48.6L358.3 47.1L358.5 45.6L359.1 44.6L359.9 43.7L361.9 42.4L364.4 41.4L367.9 40.6L372 40.1ZM334.4 66.1L347.9 72.2L375.9 85.4L407.4 98.9L417.4 103.4L425.4 107.3L435.5 112.6L443.9 117.1L451.4 121.4L459.4 126.3L468.4 132.2L478.9 139.5L487.4 145.7L500.9 156.2L523.4 174.8L538.3 186.6L334.4 186.6L334.4 66.1Z"/>
<path fill="#f6f6ff" d="M370.4 41.6L375.9 41.3L382.9 41.5L396.9 42.7L403.9 43.8L421.9 46.8L447.4 50.7L460.9 53.1L478.4 56.6L496.4 60.6L545.9 72.9L567.4 78.1L567.4 179.2L552.4 167.6L542.9 160L513.9 134.8L497 120.6L490.2 115.6L480.8 109.1L467.5 100.6L451 90.6L443.9 86.8L421.4 77.4L405.9 71.6L396.9 67.9L382.9 61.1L360.9 49.7L359.7 48.6L359.1 47.1L359.4 45.9L360.4 44.6L361.9 43.6L363.9 42.8L366.9 42.1L370.4 41.6ZM334.4 69.1L334.4 68.8L344.4 73.4L376.4 88.2L405.4 100.8L414.9 105.2L431.5 113.6L450.4 124.1L458.9 129.3L468.4 135.4L478.4 142.3L486.4 148.1L500 158.6L520.5 175.6L534.2 186.6L334.4 186.6L334.4 69.1Z"/>
<path fill="#fff6f6" d="M368.6 43.1L374.9 42.7L382.4 43L388.9 43.5L396.4 44.4L403.9 45.6L422.4 49L448.4 53.3L461.9 55.8L483.4 60.6L498.9 64.3L567.4 82.5L567.4 177.3L552.4 165.8L542.9 158.2L511.4 130.9L503.9 124.5L497.4 119.3L490.9 114.6L481.4 108.1L468.9 100.3L450.9 89.5L443.9 85.8L420.9 76.3L406.4 71.1L396.9 67.3L384.1 61.1L361.6 49.6L360.4 48.6L359.8 47.6L359.8 46.6L360.4 45.7L361.4 45L363.4 44.1L368.6 43.1ZM334.4 72.1L334.4 71.6L375.9 90.6L411.4 106.4L419.9 110.6L428.4 115L450.4 127.3L458.4 132.2L468.9 138.9L477.9 145L484.9 150L498.4 160.5L530.2 186.6L334.4 186.6L334.4 72.1Z"/>
<path fill="#ffe4e4" d="M367.1 44.6L370.4 44.2L376.9 44.2L383.9 44.6L396.4 46L404.4 47.4L413.4 49.5L420.9 50.9L444.9 55.1L461.9 58.4L486.4 64.2L500.9 68.1L567.4 87.1L567.4 175.5L553.1 164.6L543.7 157.1L504.9 123.6L497.9 118L493.9 115.1L481.9 107L464.4 96.4L451.4 88.8L444.4 85.1L439.9 83L421.4 75.5L415.4 73.3L406.9 70.6L396.9 66.6L391.4 64.1L362.6 49.6L361.8 49.1L360.7 48.1L360.4 47.6L360.3 47.1L360.6 46.6L361.9 45.7L363.7 45.1L367.1 44.6ZM334.4 74.6L334.4 74.4L357.4 84.8L408.4 107.8L418.9 113L425.9 116.8L453.4 132.3L469.9 142.6L478.4 148.4L484.4 152.7L495.3 161.1L526.2 186.6L334.4 186.6L334.4 74.6Z"/>
<path fill="#ffd1d1" d="M373.2 46.1L375.9 45.8L382.9 46.1L392.4 47.2L398.4 48.3L417.7 52.6L448.9 58.6L465.4 62.1L488.9 68.2L501.4 71.8L567.4 92.5L567.4 173.6L554.4 163.8L542.4 154.3L513.4 129L503.5 120.6L499 117.1L487.5 109.1L481.9 105.5L464.4 95L451.4 87.5L444.4 83.9L441.4 82.4L424.4 75.4L415.9 72.3L412.9 71.5L406.9 69.4L396.9 65.5L375.9 55.4L372.1 53.1L370.5 51.6L369.8 50.1L369.9 48.6L370.4 47.6L371.8 46.6L373.2 46.1ZM334.4 78.1L334.4 77.9L335.9 78.6L363.9 91L383.9 100L404.9 109.8L417.9 116.3L425.4 120.3L452.4 135.5L470.9 147.1L480.4 153.6L489.9 160.7L495.4 165.1L521.6 186.6L334.4 186.6L334.4 78.1Z"/>
<path fill="#ffbfbf" d="M376.7 47.6L379.4 47.5L382.9 47.8L391.4 49L398.9 50.4L419.9 55.3L454.9 62.9L473.3 67.6L490.6 72.6L510.4 79L567.4 99.5L567.4 172.4L555.1 163.1L543.2 153.6L513.9 128.1L504.4 120.1L496.4 114L487.9 108.1L482.4 104.6L464.9 94L451.4 86.2L443.5 82.1L424.9 74.2L408.9 68.4L395.9 63L376.4 54.1L374.4 52.6L373.7 51.6L373.5 50.6L373.7 49.6L374.4 48.6L375.4 47.9L376.7 47.6ZM334.4 82.6L334.4 82.4L363.4 95.1L382.9 103.9L402.5 113.1L421.4 122.7L446.4 136.7L464.4 147.5L472.4 152.6L479.4 157.5L492.4 167.3L516.4 186.6L334.4 186.6L334.4 82.6Z"/>
<path fill="#ffadad" d="M376.5 49.1L378.9 49L383.4 49.5L392.4 51L400.9 52.8L455.4 66.2L467.4 69.4L477.9 72.5L496.4 78.4L513.6 84.6L527.3 90.1L556.4 102.4L567.4 106.7L567.4 171.2L552.1 159.6L544 153.1L514.7 127.6L504.4 118.9L496.1 112.6L483.4 104.1L454.9 86.9L449.9 84.1L443.9 81L423.9 72.4L410.9 67.7L404.4 64.5L376.9 53L375.6 52.1L375 51.1L375.1 50.1L375.4 49.6L376.5 49.1ZM334.4 87.1L334.4 86.7L359.4 97.6L377.4 105.6L394.4 113.6L416.4 124.6L439.9 137.5L459.9 149.2L468.9 154.8L475.9 159.5L487.4 167.9L511.1 186.6L334.4 186.6L334.4 87.1Z"/>
<path fill="#ff9b9b" d="M375.9 50.6L376.4 50.3L376.9 50.2L380.7 50.6L392.9 53L402.4 55.2L458.9 70.4L471.4 74L481.4 77.2L500.4 83.9L515.7 90.1L527.7 95.6L555.4 109.1L567.4 114.4L567.4 170.1L552.9 159.1L544.9 152.6L512.9 124.8L504.4 117.7L498.4 113.1L492.9 109.2L482.4 102.3L455.9 86.2L450.4 83.1L443.9 79.7L423.4 70.8L410.9 66.1L407.9 64L403.9 62.2L390.4 56.8L376.9 51.8L376 51.1L375.9 50.6ZM334.4 91.1L362.9 103.3L388.4 115.1L411.4 126.5L433.4 138.4L455.9 151.2L465.4 157L472.9 161.8L483.4 169.3L505.7 186.6L334.4 186.6L334.4 91.1Z"/>
<path fill="#ff8989" d="M391.6 55.1L392.4 54.9L393.6 55.1L400 56.6L410.4 59.4L460.3 74.1L476.4 79.1L492.4 85L506.9 90.9L518.1 96.1L528.5 101.6L554.9 116.4L567.4 122.7L567.4 169L552.9 157.9L545.4 151.9L513.4 124L504.9 116.9L498.4 111.9L493.4 108.4L483.4 101.7L456.4 85.2L451.4 82.3L443.9 78.3L425.4 69.6L412.9 64.3L407.6 61.6L393.7 56.1L391.6 55.1ZM334.4 95.6L334.4 95.3L354.4 103.8L377.3 114.1L403.4 126.8L425.4 138.4L451.9 153.3L462.4 159.5L470.4 164.4L479.9 171L500.2 186.6L334.4 186.6L334.4 95.6Z"/>
<path fill="#ff7676" d="M432.3 69.1L432.5 69.1L432.3 69.1ZM433.2 69.6L434.4 69.5L436.9 70.1L472.9 81.4L479.4 83.8L489 87.6L497.9 91.3L506.5 95.1L513.9 98.8L521.4 103.1L554.9 124.8L567.4 132.2L567.4 167.9L548.9 153.6L531.9 139L528.9 136.2L516.4 125.3L513.9 123L505.4 115.8L498.9 110.8L489.9 104.5L480.5 98.1L471.4 91.5L458 82.6L448.9 77.4L433.2 69.6ZM334.4 100.1L334.4 99.6L356.4 108.9L371.4 115.6L396.9 128L418.4 139.1L447.9 155.4L468.9 167.6L477 173.1L494.5 186.6L334.4 186.6L334.4 100.1Z"/>
<path fill="#ff6464" d="M475.9 86.6L476.6 86.6L480.7 88.1L494.9 94.1L506.4 99.5L513.4 103.4L518.4 106.6L526.7 112.6L557.9 136.5L567.4 143.5L567.4 157.4L527.9 122.6L514.4 111.3L505.9 105.3L485.4 93L477.1 87.6L475.9 86.6ZM334.4 104.1L334.4 103.9L355.4 112.6L370.9 119.5L394.9 131.3L414.9 141.6L440.4 155.6L467.4 170.7L474.3 175.1L482.8 182.1L488.6 186.6L334.4 186.6L334.4 104.1Z"/>
</g>
<path d="M566.6 65.6L565.5 65.4L563.1 65.0L559.7 64.4L555.0 63.6L550.3 62.8L545.7 61.9L541.0 61.0L536.4 60.0L531.7 59.0L527.1 58.1L522.4 57.1L517.8 56.2L513.1 55.3L508.5 54.3L503.8 53.4L499.2 52.5L494.5 51.6L489.9 50.7L485.2 49.9L480.6 49.1L475.9 48.3L471.3 47.5L466.6 46.7L462.0 45.9L456.0 45.1L448.7 44.1L440.0 43.0L430.0 41.9L421.7 40.9L415.1 40.1L410.2 39.5L407.0 39.1L403.8 38.7L400.5 38.3L397.2 37.9L393.8 37.6L390.5 37.4L387.1 37.3L383.7 37.2L380.4 37.1L377.2 37.2L374.4 37.3L371.8 37.5L369.4 37.8L367.3 38.1L365.4 38.5L363.6 39.0L362.1 39.6L360.8 40.2L359.5 41.0L358.4 41.8L357.3 42.8L356.5 43.7L355.9 44.5L355.4 45.2L355.2 45.9L355.2 46.6L355.4 47.3L356.0 48.0L356.7 48.7L358.0 49.6L359.7 50.6L361.9 51.8L364.6 53.2L367.4 54.6L370.5 56.2L373.7 57.9L377.0 59.7L380.4 61.5L383.8 63.2L387.1 64.9L390.5 66.6L393.6 68.1L396.4 69.5L399.1 70.7L401.4 71.8L404.1 72.9L406.9 74.1L410.0 75.4L413.4 76.8L416.7 78.1L420.1 79.5L423.5 80.9L426.8 82.3L430.2 83.7L433.6 85.2L436.9 86.5L440.3 87.9L443.6 89.5L447.0 91.3L450.4 93.2L453.7 95.3L457.1 97.5L460.5 99.6L463.8 101.8L467.2 103.9L470.5 106.2L473.9 108.4L477.4 110.8L480.8 113.2L484.0 115.4L486.8 117.5L489.4 119.4L491.7 121.1L493.9 122.9L496.0 124.6L498.1 126.3L500.1 128.0L501.9 129.5L503.4 130.8L504.6 131.9L505.7 132.7L507.3 134.1L509.5 136.0L512.2 138.3L515.6 141.2L518.9 144.1L522.3 147.1L525.7 150.0L529.0 153.1L532.4 156.0L535.8 159.0L539.1 161.9L542.5 164.7L545.8 167.5L549.2 170.3L552.5 173.0L555.9 175.8L558.7 178.0L561.1 179.9L563.0 181.4L564.5 182.4L565.5 183.2L566.2 183.7L566.6 184.0" fill="none" stroke="#16169a" stroke-width="0.75"/>
<path d="M335.4 61.5L336.2 61.9L337.8 62.5L340.3 63.6L343.5 65.0L346.8 66.5L350.1 68.0L353.5 69.6L356.8 71.3L360.1 72.9L363.3 74.5L366.4 76.1L369.5 77.7L372.8 79.3L376.4 81.0L380.3 82.7L384.5 84.5L388.5 86.2L392.4 87.8L396.1 89.3L399.7 90.8L403.2 92.2L406.6 93.6L410.0 94.9L413.4 96.3L416.7 97.7L420.1 99.2L423.5 100.8L426.8 102.5L430.2 104.2L433.6 105.9L436.9 107.6L440.3 109.2L443.6 111.0L447.0 112.8L450.4 114.7L453.7 116.6L457.2 118.7L460.6 120.9L464.1 123.2L467.7 125.8L471.2 128.2L474.7 130.8L478.2 133.2L481.8 135.8L485.2 138.3L488.6 140.8L492.0 143.4L495.4 145.9L498.7 148.6L502.1 151.3L505.5 154.0L508.8 156.8L512.2 159.6L515.6 162.4L518.9 165.3L522.3 168.1L525.6 170.9L529.0 173.6L532.4 176.3L535.7 178.9L538.5 181.0L540.7 182.7L542.3 183.9L543.3 184.5L544.0 185.1L544.5 185.4L544.8 185.6" fill="none" stroke="#16169a" stroke-width="0.75"/>
<path d="M566.6 90.3L565.5 90.0L563.1 89.3L559.7 88.2L555.0 86.8L550.3 85.4L545.7 84.0L541.0 82.7L536.4 81.3L531.7 79.8L527.1 78.4L522.4 77.0L517.8 75.6L513.1 74.1L508.5 72.7L503.8 71.4L499.2 70.0L494.5 68.7L489.9 67.4L485.2 66.2L480.6 65.0L475.9 63.8L471.3 62.6L466.6 61.5L462.0 60.4L456.0 59.1L448.7 57.6L440.0 56.0L430.0 54.3L421.7 52.7L415.1 51.4L410.2 50.3L407.0 49.5L403.8 48.7L400.5 48.0L397.2 47.5L393.8 47.0L390.5 46.5L387.1 46.1L383.7 45.8L380.4 45.5L377.2 45.3L374.1 45.2L371.3 45.3L368.6 45.3L366.2 45.5L364.1 45.8L362.3 46.2L360.8 46.6L360.3 47.3L360.8 48.1L362.3 49.2L364.8 50.4L367.6 51.8L370.5 53.2L373.7 54.8L377.0 56.5L380.4 58.2L383.8 59.8L387.1 61.5L390.5 63.2L393.8 64.8L397.2 66.2L400.5 67.6L403.9 68.9L407.0 70.0L409.8 71.0L412.5 71.8L414.8 72.5L417.5 73.3L420.3 74.3L423.5 75.5L426.8 76.9L430.2 78.3L433.6 79.7L436.9 81.0L440.3 82.4L443.6 83.9L447.0 85.5L450.4 87.3L453.7 89.3L457.1 91.2L460.5 93.2L463.8 95.1L467.2 97.1L470.5 99.1L473.9 101.1L477.4 103.2L480.8 105.3L484.3 107.5L487.8 109.8L491.4 112.1L495.0 114.6L498.5 117.2L502.0 119.9L505.5 122.7L508.8 125.5L511.8 128.1L514.3 130.2L516.4 132.0L518.1 133.5L520.2 135.3L522.7 137.5L525.7 140.1L529.0 143.0L532.4 146.0L535.8 148.9L539.1 151.8L542.5 154.6L545.8 157.4L549.2 160.1L552.5 162.7L555.9 165.2L558.7 167.4L561.1 169.2L563.0 170.6L564.5 171.7L565.5 172.5L566.2 173.0L566.6 173.3" fill="none" stroke="#86161c" stroke-width="0.75"/>
<path d="M335.4 77.0L335.8 77.2L336.6 77.6L337.8 78.1L339.3 78.9L341.3 79.8L343.5 80.8L346.2 81.9L349.1 83.2L352.5 84.7L356.3 86.4L360.6 88.2L365.2 90.4L369.9 92.5L374.5 94.5L379.2 96.6L383.8 98.8L388.2 100.7L392.3 102.6L396.1 104.3L399.7 106.0L403.2 107.6L406.6 109.2L410.0 110.9L413.4 112.6L416.5 114.2L419.4 115.7L422.0 117.0L424.4 118.3L427.4 120.0L430.9 122.0L435.0 124.3L439.6 126.9L443.6 129.2L447.0 131.1L449.8 132.7L451.8 133.8L454.6 135.4L458.0 137.5L462.0 140.0L466.6 142.9L471.0 145.7L475.0 148.4L478.6 150.9L482.0 153.4L485.3 155.8L488.7 158.4L492.0 161.0L495.4 163.7L498.7 166.4L502.1 169.2L505.5 172.0L508.8 174.8L511.9 177.4L514.6 179.6L516.9 181.5L519.0 183.2L520.5 184.4L521.5 185.2L522.0 185.6" fill="none" stroke="#86161c" stroke-width="0.75"/>
<ellipse cx="425.5" cy="84.3" rx="6.5" ry="2.3" transform="rotate(24 424.8 84.9)" fill="#9a9aa6" opacity="0.75"/>
<path d="M410.4 97.1L416.2 92.0L434.6 88.4" fill="none" stroke="#880420" stroke-width="3.5" stroke-linejoin="round"/>
</g>
<rect x="335.4" y="20.1" width="231.2" height="165.3" fill="none" stroke="#000" stroke-width="1"/>
<path d="M369.4 185.4 v-1.8 M369.4 20.1 v1.8 M403.3 185.4 v-1.8 M403.3 20.1 v1.8 M437.2 185.4 v-1.8 M437.2 20.1 v1.8 M471.1 185.4 v-1.8 M471.1 20.1 v1.8 M505.0 185.4 v-1.8 M505.0 20.1 v1.8 M538.9 185.4 v-1.8 M538.9 20.1 v1.8 M335.4 54.1 h1.8 M566.6 54.1 h-1.8 M335.4 88.1 h1.8 M566.6 88.1 h-1.8 M335.4 122.1 h1.8 M566.6 122.1 h-1.8 M335.4 156.1 h1.8 M566.6 156.1 h-1.8" stroke="#000" stroke-width="0.5" fill="none"/>
<text x="335.5" y="196.9" text-anchor="middle" class="tl">100</text>
<text x="403.3" y="196.9" text-anchor="middle" class="tl">200</text>
<text x="471.1" y="196.9" text-anchor="middle" class="tl">300</text>
<text x="538.9" y="196.9" text-anchor="middle" class="tl">400</text>
<text x="332.6" y="24.6" text-anchor="end" class="tl">0</text>
<text x="332.6" y="92.6" text-anchor="end" class="tl">100</text>
<text x="332.6" y="160.6" text-anchor="end" class="tl">200</text>
<text x="450.3" y="212.7" text-anchor="middle" class="al">Distance (km)</text>
<text transform="translate(306.9 102.2) rotate(-90)" text-anchor="middle" class="al">Depth (km)</text>
<text x="450.4" y="9.7" text-anchor="middle" class="ti">Jun 13, 2005 Chile M<tspan dy="2.8" font-size="9">w</tspan><tspan dy="-2.8">7.7</tspan></text>
<clipPath id="clipc"><rect x="37.2" y="251.6" width="237.1" height="165.6"/></clipPath>
<g clip-path="url(#clipc)">
<rect x="36.2" y="250.6" width="239.1" height="167.6" fill="#0909ff"/>
<g shape-rendering="crispEdges">
<path fill="#1b1bff" d="M36.2 254.1L36.2 253.9L64.2 255.7L105.2 259.1L116.7 259.6L125.7 259.3L145.7 257.3L159.2 256.8L198.2 256.3L275.2 256.1L275.2 418.1L36.2 418.1L36.2 254.1Z"/>
<path fill="#2e2eff" d="M36.2 256.6L36.2 256.2L66.2 260.1L81.7 262.5L108.2 267.3L113.7 268L118.7 268.4L122.7 268.2L126.7 267.6L138.2 264.4L143.2 263.3L148.7 262.6L156.2 262.1L178.7 261.4L197.2 261L218.2 260.9L231.7 260.6L275.2 260.5L275.2 418.1L36.2 418.1L36.2 256.6Z"/>
<path fill="#4040ff" d="M36.2 258.6L65.2 264.2L76.2 266.7L92.2 271.1L119.7 279.7L122.9 280.6L124.2 280.7L127.2 280.6L129.3 279.6L132.3 276.1L134.8 273.6L136.5 272.1L138.7 270.6L143.7 268.7L149.7 267.6L154.7 267.4L157.2 267L164.2 266.9L166.7 266.5L175.7 266.4L179.2 266L191.7 265.9L195.2 265.5L222.2 265.5L227.7 265.1L275.2 265L275.2 418.1L36.2 418.1L36.2 258.6Z"/>
<path fill="#5252ff" d="M36.2 261.1L36.2 260.8L57.2 265.9L65.7 268.3L77.6 272.1L99.2 280.3L107.2 283L115.7 285.4L118.7 285.9L121.7 286.2L124.2 286.1L126.2 285.8L128.2 285.2L130.2 284.2L132.7 282.4L139.6 276.1L141.8 274.6L144.2 273.3L147.2 272.1L150.2 271.3L157.2 270.2L168.7 269.3L181.2 268.9L275.2 268.9L275.2 418.1L36.2 418.1L36.2 261.1Z"/>
<path fill="#6464ff" d="M36.2 263.1L57.2 269.2L67.7 272.9L79.6 278.1L95.7 286L103.2 289.1L108.7 290.8L114.2 292.2L118.7 293.1L122.2 293.5L124.7 293.4L126.7 293L128.7 292.2L130.7 291L133.7 288.3L140.7 280.6L143.2 278.5L145.7 276.8L148.1 275.6L150.6 274.6L153.2 273.9L156.2 273.2L163.7 272.4L170.2 271.9L180.7 271.7L188.2 272L197.2 272.1L201.7 272.3L220.7 272.4L227.2 272.7L275.2 272.7L275.2 418.1L36.2 418.1L36.2 263.1Z"/>
<path fill="#7676ff" d="M36.2 265.6L36.2 265.3L53.7 270.7L62.7 273.9L67.2 275.9L73.7 278.9L81.2 282.8L92.2 289.2L97.9 292.1L103.7 294.4L117.7 299.1L128.7 302.5L132.7 304.4L133.3 304.1L135.8 298.6L139.7 292L142.7 287.9L145.7 284.7L149.2 281.9L152.7 280L156.7 278.4L161.7 277.2L165.7 276.5L171.7 275.8L181.2 275.5L200.7 276.1L218.7 276.3L227.2 276.7L275.2 277.3L275.2 418.1L36.2 418.1L36.2 265.6Z"/>
<path fill="#8989ff" d="M36.2 267.1L55.2 272.8L62.2 275.4L69.2 278.4L81.2 284.4L97.7 293.6L120.1 303.6L125.3 306.1L130.2 309.1L137.7 314.6L138.2 314.5L138.4 314.1L139.9 307.6L142.1 301.6L144.8 296.6L148.2 292.1L151.9 288.6L156.2 285.7L161.2 283.5L166.7 281.9L172.2 280.9L177.7 280.3L183.2 280.1L191.7 280.1L217.2 280.6L275.2 282.8L275.2 418.1L36.2 418.1L36.2 267.1Z"/>
<path fill="#9b9bff" d="M36.2 269.1L36.2 268.7L52.7 273.7L59.7 276.1L68.7 279.7L80.2 285.4L97.7 295.3L113.8 304.1L121.4 308.6L127.9 313.1L140.7 323.3L143.2 325L144.2 325.5L144.7 325.1L144.8 324.6L144.9 316.1L145.8 309.6L146.6 306.6L147.5 304.1L149.8 299.6L151.5 297.1L153.2 295.1L155.2 293.2L157.2 291.6L159.7 290L162.2 288.8L167.7 286.8L174.2 285.4L181.2 284.6L189.7 284.3L202.2 284.4L214.2 284.7L226.7 285.3L275.2 288.4L275.2 418.1L36.2 418.1L36.2 269.1Z"/>
<path fill="#adadff" d="M36.2 270.6L36.2 270.3L52.7 275.3L64.2 279.4L73.7 283.6L86.2 290.1L104.7 301.6L115 308.6L123.4 315.1L135.2 325.6L139.2 328.9L145.2 333.1L150.2 336L150.7 336L151.1 335.1L151.5 331.1L151.4 327.1L150.9 317.1L151 312.1L151.6 308.1L152.7 304.6L153.9 302.1L155.2 300.1L156.7 298.3L158.5 296.6L160.4 295.1L162.7 293.6L165.2 292.4L167.7 291.5L171.2 290.5L174.7 289.7L182.7 288.8L191.2 288.5L207.2 288.6L219.2 289.1L233.4 290.1L275.2 294L275.2 418.1L36.2 418.1L36.2 270.6Z"/>
<path fill="#bfbfff" d="M36.2 272.1L51.7 276.6L64.5 281.1L73.6 285.1L82.5 289.6L87.8 292.6L91.8 295.1L99.1 300.1L106.2 305.5L110 308.6L117.4 315.1L124.2 321.7L133.1 331.1L138.7 336L143.2 339.4L147.7 342.3L150.7 343.8L152.7 344.3L154.2 344.3L155.2 344.1L156.2 343.6L157.5 342.6L158.3 341.6L159.1 340.1L159.6 338.6L159.9 336.6L159.9 334.6L159.7 332.1L157 319.6L155.8 312.6L155.8 309.1L156.2 306.6L156.7 305.1L157.7 303.2L159.9 300.6L162.2 298.6L163.7 297.6L167.2 295.9L170.7 294.8L175.2 293.8L183.2 292.8L209.7 292.7L213.2 293.1L219.2 293.3L235.2 294.7L255.7 297.1L275.2 299.6L275.2 418.1L36.2 418.1L36.2 272.1Z"/>
<path fill="#d1d1ff" d="M36.2 274.6L53.2 279.9L60.2 282.4L66.2 284.8L77.7 290.3L84.2 293.9L89.2 297.1L94.9 301.1L100.2 305.2L110.5 314.1L120.5 324.1L131.2 336.1L133.2 338L134.7 339L137.8 340.1L143.2 346.6L147.2 350.6L149.7 352.6L152.2 354.1L154.2 355L156.7 355.6L158.7 355.6L160.2 355.4L161.7 354.9L162.7 354.3L163.7 353.4L164.7 352.2L166.2 349.1L166.9 345.6L167 341.6L163 322.6L162.6 317.6L162.9 313.6L163.5 311.1L164.2 309.2L165.2 307.4L166.6 305.6L168 304.1L169.9 302.6L172.2 301.2L174.2 300.3L179.7 298.5L186.7 297.4L195.7 297L207.2 297.2L218.7 298L233.7 299.7L275.2 305.4L275.2 418.1L36.2 418.1L36.2 274.6Z"/>
<path fill="#e4e4ff" d="M36.2 277.6L36.2 277.1L51.7 282.3L59.4 285.1L66.7 288.2L73.7 291.6L79.7 294.9L85.6 298.6L91.2 302.5L97.1 307.1L103 312.1L108.9 317.6L114.4 323.1L118.5 327.6L122.3 332.1L124.5 335.1L128.1 340.6L134.2 347L143 357.1L148.7 363.1L152.7 366.5L156.7 369.2L160.2 370.9L163.7 371.8L166.2 371.9L168.2 371.5L170.2 370.8L171.7 369.9L173.2 368.5L174.5 366.6L175.4 364.6L176 362.6L176.3 360.1L176.3 357.1L175.9 353.6L175.1 349.1L173.4 342.6L170.5 337.1L168.9 332.6L167.6 326.6L167.2 321.6L167.4 319.1L167.8 316.6L168.6 314.1L169.7 311.9L170.9 310.1L172.7 308.1L174.7 306.5L176.9 305.1L179.2 304L182.2 302.9L185.2 302.2L188.2 301.7L195.7 301.3L204.7 301.5L214.7 302.4L227.2 303.9L275.2 311L275.2 418.1L36.2 418.1L36.2 277.6Z"/>
<path fill="#f6f6ff" d="M36.2 280.1L36.2 279.7L54.7 286.3L62.2 289.3L69.7 292.8L76.2 296.4L82.2 300.1L88.6 304.6L94.9 309.6L100.6 314.6L106.4 320.1L111.7 325.5L116.2 330.6L120.4 336.1L123.7 341.6L125.1 343.6L139.2 360.6L154.7 380.9L160.2 387.6L164.2 392.1L167.7 395.5L171.7 399L175.2 401.7L179.7 404.8L183.7 407.2L187.2 409.1L190.7 410.4L193.7 411.2L195.7 411.2L196.4 410.6L197.3 408.1L198 404.6L198.3 401.1L198.3 396.6L197.8 391.6L197.1 386.6L196 382.1L194.5 377.1L192.4 371.6L189.6 365.1L184.9 355.6L180.2 347.8L176.7 340.1L173.8 335.6L172 331.1L171.4 328.6L171 325.6L170.9 323.1L171.1 320.6L171.7 318.1L172.5 316.1L173.6 314.1L174.7 312.6L176.7 310.6L178.7 309.1L181.2 307.8L184.2 306.7L187.2 306L190.7 305.6L194.7 305.4L199.2 305.4L207.7 306.1L218.7 307.6L275.2 316.8L275.2 418.1L36.2 418.1L36.2 280.1Z"/>
<path fill="#fff6f6" d="M36.2 282.6L36.2 282.4L51.2 287.8L57.2 290.2L65.2 293.8L73.4 298.1L79.8 302.1L86.6 307.1L93.9 313.1L101.2 319.8L109.2 328.1L116.2 336.4L123.2 346.3L135.2 362.1L144.7 375.7L157.7 395L176 418.1L36.2 418.1L36.2 282.6ZM188.3 309.6L192.2 309.2L196.7 309.3L201.7 309.6L207.2 310.4L217.4 312.1L256.2 319.3L275.2 322.6L275.2 418.1L222.4 418.1L213.7 398.6L204.2 379.6L196.4 365.6L188.9 353.1L186.9 350.1L184.1 347.1L182.1 344.1L176.7 334.6L174.9 330.1L174.1 326.1L174 322.6L174.8 319.1L176.2 316.4L178.2 314L181.2 311.8L184.7 310.4L188.3 309.6Z"/>
<path fill="#ffe4e4" d="M36.2 285.1L52.7 291.2L57.2 293.1L63.6 296.1L72.7 301L78.7 304.9L84.7 309.5L91.7 315.4L98.7 322.1L105 328.6L109.8 334.1L113.9 339.1L133 365.6L154.3 396.6L171.1 418.1L36.2 418.1L36.2 285.1ZM186.8 313.1L190.2 312.8L193.7 312.8L198.2 313.1L203.2 313.9L250.2 323.8L275.2 328.4L275.2 418.1L225.2 418.1L215.1 395.6L209.1 383.6L203.8 373.6L197.2 361.8L191.6 352.6L185.2 343.1L181.2 336.8L179.1 333.1L177.5 329.6L176.8 326.6L176.6 323.6L177 321.1L178 318.6L179.5 316.6L181.2 315.2L183.7 313.9L186.8 313.1Z"/>
<path fill="#ffd1d1" d="M36.2 288.6L36.2 288.2L53.7 295.2L61.8 299.1L69.2 303.3L74.2 306.5L78.9 310.1L87.2 317L94.7 324.2L103.2 333.2L110.1 341.6L114.7 347.6L139.3 383.1L149.3 398.1L164.1 418.1L36.2 418.1L36.2 288.6ZM187.1 317.6L189.7 317.2L192.7 317.2L196.7 317.6L201.2 318.3L251.7 330.3L275.2 335L275.2 418.1L229.3 418.1L223 403.6L219.5 396.1L214.9 386.6L208.3 374.1L202.2 363.1L187.1 338.1L184.8 334.1L183.4 331.1L182.5 328.6L182 326.6L181.8 324.6L182 322.6L182.6 321.1L183.7 319.5L185.2 318.3L187.1 317.6Z"/>
<path fill="#ffbfbf" d="M36.2 292.1L36.2 291.7L52.6 299.6L59.8 303.6L66.8 308.1L72.9 312.6L79.7 318.3L86.2 324.4L92.8 331.1L98.2 337.1L103.2 343.1L108.2 349.6L113.2 356.5L124 372.1L133 385.6L148.6 409.6L153.9 418.1L36.2 418.1L36.2 292.1ZM190.3 324.1L193.7 324L199.2 324.5L204.7 325.3L211.2 326.6L225.2 330L256.7 338.4L275.2 342.8L275.2 418.1L236.3 418.1L229.5 402.1L222.4 387.6L214.2 372.6L199.3 347.1L194.3 337.6L192.3 333.1L190.9 329.1L189.9 325.1L189.9 324.6L190.3 324.1Z"/>
<path fill="#ffadad" d="M36.2 295.6L36.2 295.4L42.1 298.6L51.7 304.1L58.7 308.6L64.9 313.1L71 318.1L77.6 324.1L83.7 330.2L90.1 337.1L96.1 344.1L102 351.6L107.7 359.4L114.4 369.1L123.4 382.6L132.3 396.6L139.9 409.1L145 418.1L36.2 418.1L36.2 295.6ZM198.6 330.6L200.7 330.6L206.2 331.4L212.2 332.6L218.7 334.2L229.7 337.4L258.2 346.2L275.2 350.8L275.2 418.1L243.2 418.1L240.9 411.6L238.4 405.6L235.5 399.1L232.4 392.6L224.9 379.1L210.7 355.6L205.2 346.1L202.1 340.1L199.6 334.6L198.4 331.6L198.3 331.1L198.6 330.6Z"/>
<path fill="#ff9b9b" d="M36.2 299.6L36.2 299.3L37.5 300.1L50.7 308.6L56.9 313.1L62.4 317.6L68.6 323.1L74.7 329.1L80.9 335.6L87.1 342.6L92.8 349.6L98.5 357.1L103.9 364.6L110 373.6L117.7 385.6L125.8 398.6L132.3 409.6L136.9 418.1L36.2 418.1L36.2 299.6ZM207.4 337.6L208.2 337.4L211.2 338L222.7 341.2L231.1 344.1L256.7 353.4L266.7 356.8L275.2 359.3L275.2 418.1L250.2 418.1L248 411.1L245.4 404.1L242.5 397.6L239 390.6L235.1 383.6L230.9 376.6L218.2 357.2L213.8 350.1L208.7 340.9L207.6 338.6L207.4 337.6Z"/>
<path fill="#ff8989" d="M36.2 303.6L42.7 308.1L49.7 313.2L54.5 317.1L59.6 321.6L65.8 327.6L71.9 334.1L78.2 341.1L84.5 348.6L89.6 355.1L94.8 362.1L99.7 369.1L105 377.1L118.5 399.1L124.6 409.6L129.2 418.1L36.2 418.1L36.2 303.6ZM217.8 346.1L218.2 345.7L219.2 345.8L223.7 347.5L253.2 360.1L265.2 364.7L275.2 368.3L275.2 418.1L257.2 418.1L255.4 410.6L253.1 403.6L250.4 397.1L246.9 390.1L242.9 383.1L238.1 375.6L233.3 368.6L222.7 354.1L219.1 348.6L217.8 346.1Z"/>
<path fill="#ff7676" d="M36.2 308.1L48.3 317.6L52.3 321.1L56.4 325.1L62.5 331.6L69.1 339.1L76.3 347.6L82.3 355.1L91.2 367.1L99.2 379.1L110.8 398.6L121.8 418.1L36.2 418.1L36.2 308.1ZM234.9 360.1L235.2 359.8L236.2 360L248.7 366.3L275.2 378.2L275.2 418.1L264.4 418.1L263.2 410.6L261.9 404.6L260.1 399.1L257.9 394.1L253.9 387.1L246.8 376.1L241.9 369.1L235.9 361.6L234.9 360.1Z"/>
<path fill="#ff6464" d="M36.2 313.1L36.2 312.9L45 320.1L50.6 325.6L58 334.1L67.2 345.2L75.6 355.6L81.7 363.6L88.7 373.6L94.7 383L114.4 418.1L36.2 418.1L36.2 313.1ZM259.4 380.6L259.7 380.5L260.2 380.7L263.9 382.6L275.2 389.5L275.2 418.1L271.7 418.1L271.3 408.6L270.8 402.1L270 397.6L269 394.6L267.3 391.6L260 382.1L259.5 381.1L259.4 380.6Z"/>
</g>
<path d="M37.0 273.0L38.2 273.3L40.5 273.9L44.0 274.8L48.6 276.1L53.3 277.5L57.9 279.1L62.6 280.8L67.2 282.6L71.9 284.7L76.5 286.9L81.2 289.3L85.8 291.8L90.5 294.7L95.1 297.8L99.8 301.2L104.4 305.0L108.7 308.6L112.7 312.0L116.3 315.4L119.6 318.7L122.6 321.8L125.4 324.7L127.9 327.5L130.3 330.1L132.6 332.5L134.9 334.7L137.2 336.8L139.6 338.6L141.8 340.3L143.9 341.9L145.8 343.3L147.7 344.5L149.4 345.5L150.9 346.5L152.2 347.3L153.4 347.9L154.5 348.4L155.5 348.7L156.4 348.7L157.2 348.7L158.0 348.4L158.8 348.0L159.5 347.4L160.1 346.7L160.7 345.8L161.3 344.8L161.8 343.7L162.3 342.4L162.6 341.0L162.8 339.6L162.9 338.1L162.8 336.4L162.7 334.9L162.5 333.5L162.1 332.2L161.7 331.0L161.3 329.6L160.8 328.0L160.3 326.3L159.7 324.5L159.2 322.6L158.7 320.8L158.2 318.9L157.8 317.0L157.5 315.3L157.2 313.7L156.9 312.2L156.7 310.8L156.7 309.4L156.8 308.2L157.0 306.9L157.4 305.8L157.9 304.6L158.7 303.4L159.7 302.1L160.8 300.9L162.2 299.7L163.7 298.7L165.4 297.7L167.2 296.9L169.3 296.2L171.7 295.5L174.2 295.0L177.0 294.5L179.9 294.1L182.9 293.8L186.1 293.7L189.3 293.6L192.9 293.5L196.9 293.5L201.2 293.6L205.8 293.7L210.5 293.8L215.1 294.0L219.8 294.3L224.4 294.7L229.1 295.1L233.7 295.6L238.4 296.1L243.0 296.7L248.1 297.3L253.5 298.0L259.2 298.8L265.4 299.6L270.0 300.2L273.0 300.7L274.6 300.9" fill="none" stroke="#16169a" stroke-width="0.75"/>
<path d="M37.0 287.8L38.2 288.2L40.5 289.0L44.0 290.2L48.6 291.8L53.3 293.6L57.9 295.6L62.6 297.9L67.2 300.3L71.3 302.6L74.6 304.7L77.4 306.6L79.5 308.4L81.6 310.1L83.7 311.8L85.7 313.5L87.8 315.2L90.1 317.3L92.8 319.8L95.8 322.8L99.2 326.1L102.5 329.7L105.8 333.4L109.0 337.2L112.2 341.3L115.0 344.9L117.3 348.0L119.2 350.8L120.7 353.0L122.3 355.4L123.9 357.9L125.7 360.4L127.6 363.0L129.8 366.2L132.5 369.9L135.5 374.2L138.8 379.1L141.9 383.6L144.7 387.6L147.2 391.3L149.3 394.6L151.2 397.4L152.9 399.7L154.2 401.5L155.4 402.7L156.8 404.5L158.5 406.7L160.6 409.4L163.0 412.5L164.8 414.9L166.0 416.4L166.6 417.2" fill="none" stroke="#86161c" stroke-width="0.75"/>
<path d="M274.3 332.6L273.7 332.5L272.4 332.3L270.5 331.9L268.0 331.5L265.3 331.0L262.3 330.4L259.2 329.8L255.8 329.2L252.5 328.5L249.1 327.8L245.7 327.0L242.4 326.3L239.0 325.5L235.6 324.7L232.3 324.0L228.9 323.2L225.6 322.5L222.2 321.6L218.8 320.8L215.5 320.0L212.5 319.2L210.1 318.6L208.1 318.1L206.5 317.6L204.9 317.2L203.2 316.8L201.5 316.5L199.7 316.1L198.0 315.8L196.3 315.6L194.7 315.4L193.1 315.2L191.6 315.1L190.2 315.1L188.8 315.1L187.5 315.2L186.3 315.3L185.2 315.5L184.2 315.8L183.3 316.1L182.5 316.5L181.7 317.0L181.0 317.6L180.3 318.3L179.7 319.0L179.3 319.8L178.9 320.7L178.6 321.6L178.4 322.6L178.3 323.6L178.3 324.7L178.4 325.8L178.6 326.9L178.9 328.0L179.3 329.0L179.8 330.0L180.4 331.1L181.1 332.4L181.9 333.8L182.8 335.2L183.9 337.0L185.2 339.0L186.7 341.2L188.4 343.8L190.0 346.2L191.6 348.8L193.2 351.2L194.7 353.8L196.3 356.3L197.9 359.0L199.5 361.8L201.2 364.7L202.9 367.7L204.6 370.7L206.3 373.9L208.0 377.1L209.8 380.6L211.6 384.2L213.6 388.0L215.5 392.0L217.5 396.2L219.6 400.6L221.6 405.2L223.7 410.0L225.2 413.6L226.3 416.0L226.8 417.2" fill="none" stroke="#86161c" stroke-width="0.75"/>
<path d="M130.2 300.6L157.0 348.2" fill="none" stroke="#880420" stroke-width="3.5" stroke-linejoin="round"/>
</g>
<rect x="37.2" y="251.6" width="237.1" height="165.6" fill="none" stroke="#000" stroke-width="1"/>
<path d="M68.9 417.2 v-1.8 M68.9 251.6 v1.8 M103.4 417.2 v-1.8 M103.4 251.6 v1.8 M137.9 417.2 v-1.8 M137.9 251.6 v1.8 M172.4 417.2 v-1.8 M172.4 251.6 v1.8 M206.9 417.2 v-1.8 M206.9 251.6 v1.8 M241.4 417.2 v-1.8 M241.4 251.6 v1.8 M37.2 286.1 h1.8 M274.3 286.1 h-1.8 M37.2 320.6 h1.8 M274.3 320.6 h-1.8 M37.2 355.1 h1.8 M274.3 355.1 h-1.8 M37.2 389.6 h1.8 M274.3 389.6 h-1.8" stroke="#000" stroke-width="0.5" fill="none"/>
<text x="103.4" y="428.7" text-anchor="middle" class="tl">100</text>
<text x="172.4" y="428.7" text-anchor="middle" class="tl">200</text>
<text x="241.4" y="428.7" text-anchor="middle" class="tl">300</text>
<text x="34.4" y="256.1" text-anchor="end" class="tl">0</text>
<text x="34.4" y="325.1" text-anchor="end" class="tl">100</text>
<text x="34.4" y="394.1" text-anchor="end" class="tl">200</text>
<text x="155.1" y="444.5" text-anchor="middle" class="al">Distance (km)</text>
<text transform="translate(8.7 333.9) rotate(-90)" text-anchor="middle" class="al">Depth (km)</text>
<text x="155.2" y="241.2" text-anchor="middle" class="ti">Jun 23, 2014 Aleutian M<tspan dy="2.8" font-size="9">w</tspan><tspan dy="-2.8">7.9</tspan></text>
<clipPath id="clipd"><rect x="335.3" y="251.6" width="233.2" height="165.6"/></clipPath>
<g clip-path="url(#clipd)">
<rect x="334.3" y="250.6" width="235.2" height="167.6" fill="#0909ff"/>
<g shape-rendering="crispEdges">
<path fill="#1b1bff" d="M444.9 253.1L458.8 252.8L479.8 252.9L569.3 254.3L569.3 418.1L334.3 418.1L334.3 257.4L341.3 257.9L343.3 258.3L346.3 258.4L348.3 258.7L351.8 258.9L353.3 259.2L356.8 259.4L358.8 259.7L361.8 259.9L363.8 260.2L366.8 260.3L368.8 260.7L376.3 261.3L378.3 261.7L381.3 261.8L382.8 262.1L385.8 262.3L387.3 262.6L394.3 263.3L405.8 265.3L408.8 265.5L409.8 265.3L411.3 264.5L415.9 260.6L418.9 258.6L421.8 257.1L424.4 256.1L428.3 255L433 254.1L438.3 253.5L444.9 253.1Z"/>
<path fill="#2e2eff" d="M458.2 254.1L489.8 254.5L569.3 257L569.3 418.1L334.3 418.1L334.3 260.8L365.8 264.3L383.3 266.4L395.8 268.4L404.3 270.3L410.3 272.5L412.8 273.8L415.3 275.3L418.8 278.1L426.6 285.6L428.3 287L430.1 288.1L433.3 289.6L436.1 290.6L439.8 291.4L440 291.1L436.3 289.8L432.3 287.9L429.3 285.7L426.2 282.1L423 276.6L421.9 274.1L421.1 271.6L420.8 269.6L420.7 268.1L421.1 266.1L421.7 264.6L423.4 262.1L426.3 259.7L429.8 257.8L433.8 256.4L438.3 255.4L443.8 254.7L449.8 254.3L458.2 254.1ZM440.3 291.5L441.3 291.7L441.5 291.6L440.3 291.5Z"/>
<path fill="#4040ff" d="M450.3 255.6L460.8 255.3L484.3 255.8L569.3 259.7L569.3 418.1L334.3 418.1L334.3 264.1L364.8 267.8L379.8 269.9L394.3 272.4L404.3 274.8L410.3 276.9L415.3 279.3L419.3 282L427 288.1L432.3 291.2L437.8 293.6L452.8 299.4L457.3 300.8L457.8 300.6L455.8 298.6L452.6 296.1L449.6 294.1L444.8 291.5L438.3 289.3L435.3 288L432.8 286.7L430.8 285.2L428.4 282.6L426.8 280.1L425.5 277.1L424.6 273.6L424.4 270.1L424.8 268.1L425.3 266.6L426.1 265.1L427.2 263.6L428.6 262.1L430.3 260.8L433.8 258.8L438.3 257.3L443.8 256.2L450.3 255.6Z"/>
<path fill="#5252ff" d="M457.5 256.6L474.8 256.8L489.8 257.4L569.3 262.4L569.3 418.1L334.3 418.1L334.3 267.4L349.8 269.6L352.8 269.8L354.3 270.1L357.3 270.3L368.3 271.8L380.3 273.8L397.8 277.4L405.8 279.4L410.8 280.9L414.1 282.1L418.1 284.1L424.8 288.8L428.8 291.4L435.8 295.3L450.3 302.7L456.3 305.5L461.8 307.7L466.8 309.3L470.3 310L470.6 309.6L470.4 309.1L463.9 303.6L452.3 295.1L446.3 291.5L436.8 287.6L434.3 286.3L432.6 285.1L430.5 283.1L429.1 281.1L428.1 279.1L427.3 276.6L426.9 274.1L426.9 272.1L427.2 270.1L427.9 268.1L429 266.1L430.1 264.6L431.8 262.9L433.8 261.3L435.8 260.2L437.8 259.3L443.3 257.8L449.3 257L457.5 256.6Z"/>
<path fill="#6464ff" d="M451.8 258.1L460.8 257.7L475.3 258.1L483.8 258.5L509.8 260.4L569.3 265.2L569.3 418.1L334.3 418.1L334.3 269.6L360.3 273.3L376.3 276L394.8 280L402.8 282.1L408.3 283.8L413.3 285.6L417.3 287.5L448.3 305.8L461.8 314.1L465.8 316.1L468.8 317.2L473.3 318.4L486.3 320.6L486.6 320.6L486.5 320.1L482.8 317.1L463.8 302.6L456.2 297.1L451.1 293.6L447.3 291.4L444.3 289.9L438.3 287.3L435.1 285.6L432.3 283.3L431.2 282.1L430.2 280.6L429.4 278.6L428.9 276.6L428.8 274.6L429.1 272.1L429.7 270.1L430.6 268.1L432 266.1L433.7 264.1L435.3 262.7L436.8 261.7L440.6 260.1L446.3 258.7L451.8 258.1Z"/>
<path fill="#7676ff" d="M457.2 259.1L461.3 258.9L465.3 259.3L475.8 259.4L478.8 259.7L483.3 259.8L489.8 260.3L569.3 267.9L569.3 418.1L334.3 418.1L334.3 271.5L359.8 275.5L376.8 278.7L386.8 281L396.3 283.4L404.3 285.8L410.3 287.9L413.8 289.4L417.8 291.3L433.8 300.4L448.3 309L468.8 321.7L486.3 331.8L506.3 339.4L511.8 341.2L516.8 342.6L517 342.1L514.9 340.1L493.4 323.1L475.3 310.3L462.9 301.1L453.7 294.6L450.3 292.4L445.8 289.9L438.8 286.6L436.2 285.1L433.8 283.3L432.2 281.6L431 279.6L430.4 277.6L430.3 275.6L430.7 273.1L431.4 271.1L432.5 269.1L435.8 264.6L436.8 263.6L437.8 263L441.3 261.5L446.8 260L450.3 259.4L457.2 259.1Z"/>
<path fill="#8989ff" d="M455.5 261.1L460.3 260.8L463.8 261L474.3 261.2L488.3 262.3L513.8 265L569.3 271.3L569.3 418.1L334.3 418.1L334.3 273.4L358.3 277.4L368.3 279.5L378.8 281.9L389.3 284.5L398.8 287.2L406.3 289.7L412.3 292L418.3 294.9L426.8 299.4L445.8 310.7L487.8 336.5L526.1 361.6L534.1 366.6L540.8 370.5L543.3 371.5L546.8 371.6L552.3 371.1L555.8 370.5L556.7 370.1L556.1 369.1L549.9 364.1L510.7 335.1L493.8 322.1L478.8 311.8L464.1 301.1L453.4 293.6L447.3 290L437.8 285L435.6 283.6L433.8 282L432.7 280.6L431.8 278.6L431.6 276.6L431.8 274.6L432.6 272.6L433.8 270.5L437.8 265.9L440.3 264.3L445.8 262.3L450.8 261.3L455.5 261.1Z"/>
<path fill="#9b9bff" d="M456.7 263.6L461.3 263.5L473.3 263.8L488.8 265.2L517.3 268.7L569.3 275.6L569.3 375.8L562.3 370.9L521.8 341.7L511.3 334L494.3 321.1L475.3 308.3L464.6 300.6L453.8 293.1L447.3 289.2L438.3 284.3L435.8 282.6L434.3 281.2L433.4 280.1L432.8 278.6L432.6 277.1L433 275.1L433.8 273.4L434.8 272L436.3 270.3L438.3 268.5L441.3 266.7L445.8 265.1L450.8 264.1L456.7 263.6ZM334.3 275.6L334.3 275.2L347.3 277.5L362.5 280.6L380.3 284.9L396.3 289.5L406.3 292.9L414.8 296.4L424.8 301.3L433.8 306.5L487.8 340.1L514.7 357.6L557.3 384.3L569.3 392.4L569.3 418.1L334.3 418.1L334.3 275.6Z"/>
<path fill="#adadff" d="M457.6 266.1L465.3 266.1L473.8 266.5L490.8 268.2L521.3 272.5L569.3 280L569.3 373.5L548.8 359.3L513.3 333.9L494.8 320.1L475.3 307.3L459.8 296.4L453.8 292.4L438.3 283.3L434.8 280.6L434 279.6L433.5 278.1L433.5 277.1L433.9 275.6L434.8 274.2L436.3 272.6L439.3 270.2L442.8 268.5L446.8 267.3L450.8 266.7L457.6 266.1ZM334.3 277.6L334.3 277.1L356.3 281.4L370.9 285.1L389.3 290.3L401.3 294.2L411.3 298L421.3 302.5L428.9 306.6L451.8 320.8L495.3 348.3L512.6 359.6L551.5 383.6L569.3 394.9L569.3 418.1L334.3 418.1L334.3 277.6Z"/>
<path fill="#bfbfff" d="M456.1 268.6L466.8 268.6L469.8 268.9L474.8 269.1L491.3 271L522.3 276L547.8 280.6L558.8 282.3L569.3 284.3L569.3 371.2L563.3 367.4L548.8 357.3L513.6 332.6L496.8 320.1L490.8 316.1L475.8 306.6L459.8 295.4L452.3 290.6L438.8 282.6L435.7 280.1L434.8 279.2L434.4 278.1L434.5 277.1L434.8 276.2L435.8 275L438 273.1L439.3 272.3L442.8 270.7L446.3 269.8L449.8 269.1L453.8 268.9L456.1 268.6ZM334.3 279.1L350.3 282.2L356.3 283.6L369.3 287.2L384.3 291.6L399.3 296.5L406.4 299.1L416.3 303.1L420.8 305.1L424.8 307.1L439.8 316.6L448.9 322.1L475.8 339.6L495.3 351.8L510.8 361.9L549.3 385.1L569.3 397.5L569.3 418.1L334.3 418.1L334.3 279.1Z"/>
<path fill="#d1d1ff" d="M456.5 270.6L465.3 270.6L473.8 271.3L490.3 273.4L523.8 279.3L569.3 288.2L569.3 369L559.3 362.5L525.2 339.1L508.1 327.1L498 319.6L489.3 314L480.8 308.8L456.8 292.6L448.3 287.2L441.3 283.1L439.3 281.6L437.5 279.6L437.2 278.6L437.1 277.6L437.5 276.6L438.1 275.6L440.3 273.7L443.3 272.4L447.3 271.5L450.8 271L456.5 270.6ZM334.3 282.1L334.3 281.9L344.8 284L357.3 286.9L366.8 289.5L382.8 294.3L398.8 299.7L407.3 302.9L417.3 307.1L425.3 311.2L450.3 326.7L476.3 343.5L509.3 364.4L546.3 386.8L569.3 401L569.3 418.1L334.3 418.1L334.3 282.1Z"/>
<path fill="#e4e4ff" d="M450.5 272.6L458.3 272.3L465.8 272.6L475.3 273.5L487.3 275.2L498.8 277.2L521.3 281.6L569.3 291.8L569.3 367.2L559.8 361L526.3 338.5L498 318.6L480.8 308L456.8 291.9L440.8 281.9L439.2 280.1L438.7 278.6L439 277.1L440.2 275.6L441.8 274.5L443.8 273.7L446.8 273.1L450.5 272.6ZM334.3 285.1L334.3 284.8L341.8 286.3L355.8 289.4L367.3 292.5L381.3 296.7L395.6 301.6L406.3 305.7L415.8 309.8L423.8 313.9L448.8 329.1L475.8 346.4L506.3 365.7L543.1 388.1L569.3 404.5L569.3 418.1L334.3 418.1L334.3 285.1Z"/>
<path fill="#f6f6ff" d="M450.8 274.1L458.3 274L466.8 274.5L476.8 275.7L487.8 277.5L499.8 279.8L520.8 284.2L569.3 295.5L569.3 365.4L527.3 337.8L498.8 318.1L480.8 307.3L456.8 291.2L441.3 281.4L440.1 280.1L439.7 278.6L440.3 277.1L441.3 276.2L442.8 275.4L444.8 274.8L450.8 274.1ZM334.3 288.1L334.3 287.7L346.8 290.2L355.3 292.1L366.3 295L378.8 298.8L392.3 303.4L404.3 308L414.3 312.4L422.3 316.5L431.3 321.7L446.8 331.2L484.8 355.4L507.8 369.8L541.1 390.1L569.3 408L569.3 418.1L334.3 418.1L334.3 288.1Z"/>
<path fill="#fff6f6" d="M450.5 275.6L458.8 275.7L467.8 276.5L477.8 277.9L488.3 279.8L520.3 286.8L569.3 299.2L569.3 363.5L528.8 337.5L500.4 318.1L495.3 314.9L485.8 309.7L481.3 306.9L453.8 288.5L441.9 281.1L440.8 280.1L440.5 279.1L440.8 277.9L441.8 277L443.3 276.4L444.8 276.1L450.5 275.6ZM334.3 291.1L334.3 290.6L354.3 294.7L365.3 297.6L376.8 301L389.8 305.5L401.3 309.9L411.8 314.4L419.8 318.4L430.8 324.7L446.8 334.5L490.4 362.1L537.8 391.3L553.3 401.1L569.3 411.6L569.3 418.1L334.3 418.1L334.3 291.1Z"/>
<path fill="#ffe4e4" d="M448.5 277.1L454.3 277.1L467.3 278.3L477.3 279.8L486.8 281.7L497.3 284L519.8 289.4L569.3 302.9L569.3 361.8L530.3 337.1L500.8 317.3L495.3 313.9L491.5 312.1L486.1 309.1L481.3 306.1L475.8 302.6L449.3 284.8L442.3 280.6L441.3 279.7L441.1 279.1L441.3 278.4L441.8 278L442.8 277.5L443.8 277.4L448.5 277.1ZM334.3 293.6L347.8 296.1L357.8 298.4L367.3 300.9L375.8 303.5L386.8 307.3L396.3 311L410.3 316.9L417.8 320.6L429.8 327.4L444.8 336.5L480.3 359.1L526.8 387.6L547.3 400.6L569.3 415.2L569.3 418.1L334.3 418.1L334.3 293.6Z"/>
<path fill="#ffd1d1" d="M451.1 279.1L453.8 278.9L462.8 279.9L476.3 282.2L483.8 283.8L525.8 294.6L569.3 307.3L569.3 360L558.3 353.2L547.4 346.1L542.3 343.1L528.8 334.6L507.3 320L495.8 313L491.8 311.2L487.8 309L475.8 301.6L458.8 290.1L452.3 285.9L450 284.1L449.1 283.1L448.7 282.1L448.6 281.1L449.2 280.1L449.8 279.6L451.1 279.1ZM334.3 297.1L334.3 296.7L336.3 297L352.3 300.2L364.3 303.2L370.8 305.2L381.3 308.7L395.8 314.3L408.3 319.7L416.8 323.9L428.8 330.7L443.8 339.6L479.3 362.2L521.8 388.2L551.3 407.3L567.1 418.1L334.3 418.1L334.3 297.1Z"/>
<path fill="#ffbfbf" d="M451.9 281.6L452.8 281.3L453.8 281.1L457.8 281.5L467.5 283.6L477.3 286L498.3 292.4L528.3 300.5L569.3 312.8L569.3 358.8L529.3 333.7L507.8 319.1L496.3 312.3L491 309.6L484.3 305.7L473.3 298.8L453 285.6L451.6 284.6L450.9 283.6L451 282.6L451.9 281.6ZM334.3 300.1L334.3 299.9L340.5 301.1L353.8 304.1L363.8 306.8L373.3 309.8L384.8 313.9L395.8 318.3L406.8 323.2L416.3 327.9L428.3 334.5L442.3 342.8L517.8 390.1L538.8 403.8L551.1 412.1L559.6 418.1L334.3 418.1L334.3 300.1Z"/>
<path fill="#ffadad" d="M452 283.1L453.3 282.8L455.8 283.2L470.9 287.6L480.8 290.8L491.3 295.1L495.8 296.7L527.3 305.2L569.3 318.2L569.3 357.7L533.8 335.4L524.3 329.2L510.3 319.5L496.9 311.6L487.3 306.3L472.3 297.1L452.7 284.6L451.8 283.6L452 283.1ZM334.3 303.1L346.3 305.7L355.8 308.1L364.8 310.7L374.3 313.9L385.8 318.2L397.3 323L407.8 327.8L417.8 332.8L428.8 338.8L440.8 345.9L494.6 379.6L522.6 397.6L539.6 409.1L552.5 418.1L334.3 418.1L334.3 303.1Z"/>
<path fill="#ff9b9b" d="M457.8 286.6L458.3 286.4L460.5 287.1L479.4 294.1L484.3 296.5L488.8 299.6L491.8 300.8L524.3 309.4L569.3 323.8L569.3 356.6L533.5 334.1L524.8 328.3L511.3 318.9L486.8 304.9L466.8 292.6L457.8 286.6ZM334.3 306.6L334.3 306.3L353.3 310.8L363.3 313.8L373.3 317.2L384.8 321.7L397.3 327L408.8 332.3L419.8 337.8L429.8 343.3L439.8 349.3L490.7 381.1L516 397.6L545.6 418.1L334.3 418.1L334.3 306.6Z"/>
<path fill="#ff8989" d="M476.8 297.1L477.3 297.1L476.8 297.1ZM477.5 297.6L477.8 297.4L479.8 298.1L482.8 299.6L484.2 300.6L485.1 302.1L484.5 302.1L483.5 301.6L479.4 299.1L477.5 297.6ZM485.5 302.6L486 302.6L485.5 302.6ZM486.2 303.1L486.3 302.9L487.3 303.1L491.3 305.2L494.8 306.6L499.3 307.7L505.8 309.9L508.3 310.5L515.8 311.8L524.3 314.3L569.3 329.5L569.3 355.6L534.3 333.5L524.8 327.1L512.3 318.3L502 312.6L492.6 307.1L490.8 305.8L487.6 304.1L486.2 303.1ZM334.3 309.6L344.8 312L354.3 314.5L363.3 317.4L372.8 320.8L384.3 325.3L397.8 331.2L410.8 337.2L420.8 342.3L429.3 347L437.3 351.7L464.3 368.4L486 382.1L510.3 398.1L538.8 418.1L334.3 418.1L334.3 309.6Z"/>
<path fill="#ff7676" d="M334.3 313.1L334.3 312.7L351.8 317.2L360.3 319.8L370.3 323.5L382.3 328.4L396.8 334.7L412.3 341.9L421.3 346.4L434.8 354.1L463.3 371.6L482.3 383.7L506.3 399.7L532 418.1L334.3 418.1L334.3 313.1ZM510.9 315.6L511.8 315.4L513.3 315.6L519.8 317.7L536.7 323.6L569.3 335.3L569.3 354.4L535 332.6L517.8 320.5L511.9 316.6L511.2 316.1L510.9 315.6Z"/>
<path fill="#ff6464" d="M334.3 316.1L345.3 318.6L351.3 320.3L358.3 322.6L369.3 326.7L382.3 332.2L396.3 338.4L412.2 345.6L421.8 350.5L432.8 356.8L442.3 362.8L461.3 374.3L479.3 385.7L492.3 394.3L503.8 402.2L525.4 418.1L334.3 418.1L334.3 316.1ZM540.1 330.6L542.6 331.1L559.3 337.4L569.3 341.4L569.3 347.2L542.8 332.6L541.2 331.6L540.1 330.6Z"/>
</g>
<path d="M568.5 285.3L568.1 285.2L567.3 285.0L566.1 284.8L564.6 284.4L562.5 284.0L560.1 283.6L557.2 283.1L553.8 282.5L550.5 282.0L547.1 281.4L543.7 280.8L540.4 280.1L537.0 279.5L533.6 278.9L530.3 278.3L526.9 277.7L523.6 277.1L520.2 276.5L516.8 275.9L513.5 275.4L510.1 274.8L506.7 274.2L503.4 273.7L500.0 273.1L496.7 272.6L493.4 272.1L490.2 271.6L487.0 271.2L483.8 270.8L480.5 270.4L477.2 270.0L473.8 269.7L470.5 269.4L467.1 269.3L463.7 269.2L460.4 269.2L457.2 269.3L454.4 269.4L451.8 269.6L449.4 269.8L447.2 270.2L445.2 270.6L443.4 271.1L441.7 271.6L440.2 272.3L438.9 273.0L437.7 273.8L436.7 274.6L435.8 275.4L435.1 276.2L434.6 276.9L434.2 277.6L434.3 278.3L434.8 279.2L435.7 280.1L437.1 281.1L438.7 282.2L440.6 283.4L442.7 284.6L445.1 286.0L447.7 287.5L450.5 289.3L453.7 291.3L457.0 293.4L460.4 295.7L463.8 297.9L467.1 300.2L470.5 302.6L473.5 304.7L476.2 306.5L478.5 308.0L480.5 309.3L482.7 310.7L485.2 312.2L487.8 313.8L490.7 315.6L493.7 317.5L496.8 319.7L500.0 322.1L503.4 324.6L506.7 327.2L510.1 329.6L513.5 332.0L516.8 334.4L520.2 336.7L523.6 339.1L526.9 341.4L530.3 343.8L533.6 346.1L537.0 348.5L540.4 350.8L543.7 353.2L547.1 355.5L550.5 357.9L553.8 360.2L557.2 362.6L560.1 364.6L562.5 366.2L564.6 367.6L566.1 368.5L567.3 369.3L568.1 369.8L568.5 370.0" fill="none" stroke="#16169a" stroke-width="0.75"/>
<path d="M335.3 279.9L336.1 280.0L337.8 280.3L340.2 280.8L343.5 281.3L346.8 282.0L350.1 282.7L353.5 283.5L356.8 284.4L360.2 285.3L363.6 286.2L366.9 287.2L370.3 288.1L373.6 289.1L377.0 290.1L380.4 291.2L383.7 292.2L387.1 293.3L390.5 294.4L393.8 295.5L397.2 296.6L400.5 297.8L403.8 298.9L407.0 300.1L410.2 301.4L413.1 302.5L415.7 303.6L418.0 304.6L420.1 305.4L422.0 306.4L423.9 307.4L425.6 308.4L427.3 309.4L429.1 310.6L431.0 311.8L433.0 313.1L435.2 314.5L437.3 315.9L439.5 317.3L441.7 318.6L444.0 320.0L446.1 321.3L448.2 322.6L450.3 323.9L452.3 325.2L454.6 326.7L457.3 328.4L460.4 330.4L463.7 332.6L467.1 334.8L470.5 337.0L473.8 339.2L477.2 341.3L480.5 343.5L483.8 345.5L487.0 347.6L490.2 349.5L493.4 351.6L496.7 353.7L500.0 355.8L503.4 358.1L506.9 360.4L510.7 362.7L514.7 365.1L518.8 367.6L523.1 370.2L527.3 372.7L531.7 375.3L536.0 378.0L540.4 380.6L544.8 383.2L549.2 385.8L553.5 388.5L557.3 390.8L560.6 392.7L563.2 394.4L565.3 395.7L566.9 396.7L568.0 397.4L568.5 397.7" fill="none" stroke="#16169a" stroke-width="0.75"/>
<path d="M568.5 305.5L568.1 305.4L567.3 305.2L566.1 304.8L564.6 304.4L562.5 303.8L560.1 303.1L557.2 302.2L553.8 301.2L550.5 300.2L547.1 299.3L543.7 298.3L540.4 297.4L537.0 296.4L533.6 295.5L530.3 294.5L526.9 293.5L523.6 292.5L520.2 291.6L516.8 290.7L513.5 289.9L510.1 289.0L506.7 288.2L503.4 287.4L500.0 286.5L496.7 285.7L493.4 284.9L490.2 284.1L487.0 283.4L483.8 282.6L480.5 282.0L477.2 281.3L473.8 280.8L470.5 280.2L467.1 279.7L463.7 279.3L460.4 278.9L457.2 278.6L454.4 278.3L451.8 278.2L449.4 278.1L447.3 278.0L445.4 278.1L443.6 278.2L442.1 278.3L441.3 278.6L441.2 279.1L441.7 279.6L442.8 280.3L444.4 281.2L446.3 282.4L448.6 283.8L451.3 285.5L454.1 287.3L457.2 289.3L460.4 291.5L463.7 293.9L467.1 296.2L470.5 298.4L473.8 300.7L477.2 302.8L480.2 304.8L483.0 306.5L485.5 308.1L487.7 309.4L489.6 310.4L491.2 311.3L492.5 311.9L493.5 312.2L495.1 313.0L497.3 314.3L500.0 315.9L503.4 318.0L506.7 320.1L510.1 322.3L513.5 324.6L516.8 327.0L520.2 329.3L523.6 331.5L526.9 333.8L530.3 335.9L533.6 338.1L537.0 340.2L540.4 342.2L543.7 344.3L547.1 346.3L550.5 348.4L553.8 350.6L557.2 352.7L560.1 354.6L562.5 356.2L564.6 357.4L566.1 358.3L567.3 359.0L568.1 359.5L568.5 359.7" fill="none" stroke="#86161c" stroke-width="0.75"/>
<path d="M335.3 296.0L336.1 296.1L337.8 296.4L340.2 296.9L343.5 297.4L346.8 298.1L350.1 298.7L353.5 299.5L356.8 300.2L360.2 301.1L363.6 302.0L366.9 302.9L370.3 304.0L373.6 305.0L377.0 306.1L380.4 307.3L383.7 308.4L387.1 309.7L390.5 310.9L393.8 312.3L397.2 313.6L400.5 315.0L403.8 316.4L407.0 317.9L410.2 319.3L413.4 320.9L416.7 322.6L420.0 324.4L423.4 326.3L426.7 328.3L430.1 330.2L433.5 332.2L436.8 334.2L440.2 336.2L443.6 338.3L446.9 340.4L450.3 342.5L453.6 344.6L457.0 346.8L460.4 348.9L463.7 351.1L467.1 353.2L470.5 355.4L473.8 357.5L477.2 359.6L480.5 361.7L483.8 363.7L487.0 365.7L490.2 367.7L493.4 369.6L496.6 371.6L499.7 373.5L502.9 375.5L506.3 377.6L510.1 379.9L514.2 382.3L518.5 385.0L522.9 387.6L527.3 390.4L531.7 393.1L536.0 396.0L540.4 398.8L544.8 401.6L549.2 404.5L553.5 407.3L557.3 409.8L560.6 412.0L563.2 413.9L565.3 415.4L566.9 416.5L568.0 417.2L568.5 417.6" fill="none" stroke="#86161c" stroke-width="0.75"/>
<path d="M447.0 323.7L469.0 323.7" fill="none" stroke="#880420" stroke-width="3.5" stroke-linejoin="round"/>
</g>
<rect x="335.3" y="251.6" width="233.2" height="165.6" fill="none" stroke="#000" stroke-width="1"/>
<path d="M355.5 417.2 v-1.8 M355.5 251.6 v1.8 M389.2 417.2 v-1.8 M389.2 251.6 v1.8 M422.9 417.2 v-1.8 M422.9 251.6 v1.8 M456.5 417.2 v-1.8 M456.5 251.6 v1.8 M490.1 417.2 v-1.8 M490.1 251.6 v1.8 M523.8 417.2 v-1.8 M523.8 251.6 v1.8 M557.5 417.2 v-1.8 M557.5 251.6 v1.8 M335.3 285.2 h1.8 M568.5 285.2 h-1.8 M335.3 318.9 h1.8 M568.5 318.9 h-1.8 M335.3 352.6 h1.8 M568.5 352.6 h-1.8 M335.3 386.2 h1.8 M568.5 386.2 h-1.8" stroke="#000" stroke-width="0.5" fill="none"/>
<text x="389.2" y="428.7" text-anchor="middle" class="tl">100</text>
<text x="456.5" y="428.7" text-anchor="middle" class="tl">200</text>
<text x="523.8" y="428.7" text-anchor="middle" class="tl">300</text>
<text x="332.5" y="256.1" text-anchor="end" class="tl">0</text>
<text x="332.5" y="323.4" text-anchor="end" class="tl">100</text>
<text x="332.5" y="390.7" text-anchor="end" class="tl">200</text>
<text x="451.2" y="444.5" text-anchor="middle" class="al">Distance (km)</text>
<text transform="translate(306.8 333.9) rotate(-90)" text-anchor="middle" class="al">Depth (km)</text>
<text x="451.3" y="241.2" text-anchor="middle" class="ti">Jan 15, 1993 Japan M<tspan dy="2.8" font-size="9">w</tspan><tspan dy="-2.8">7.6</tspan></text>
<rect x="586.20" y="351.3" width="3.17" height="5.7" fill="#0909ff"/>
<rect x="589.07" y="351.3" width="3.17" height="5.7" fill="#1b1bff"/>
<rect x="591.94" y="351.3" width="3.17" height="5.7" fill="#2e2eff"/>
<rect x="594.81" y="351.3" width="3.17" height="5.7" fill="#4040ff"/>
<rect x="597.69" y="351.3" width="3.17" height="5.7" fill="#5252ff"/>
<rect x="600.56" y="351.3" width="3.17" height="5.7" fill="#6464ff"/>
<rect x="603.43" y="351.3" width="3.17" height="5.7" fill="#7676ff"/>
<rect x="606.30" y="351.3" width="3.17" height="5.7" fill="#8989ff"/>
<rect x="609.17" y="351.3" width="3.17" height="5.7" fill="#9b9bff"/>
<rect x="612.04" y="351.3" width="3.17" height="5.7" fill="#adadff"/>
<rect x="614.91" y="351.3" width="3.17" height="5.7" fill="#bfbfff"/>
<rect x="617.79" y="351.3" width="3.17" height="5.7" fill="#d1d1ff"/>
<rect x="620.66" y="351.3" width="3.17" height="5.7" fill="#e4e4ff"/>
<rect x="623.53" y="351.3" width="3.17" height="5.7" fill="#f6f6ff"/>
<rect x="626.40" y="351.3" width="3.17" height="5.7" fill="#fff6f6"/>
<rect x="629.27" y="351.3" width="3.17" height="5.7" fill="#ffe4e4"/>
<rect x="632.14" y="351.3" width="3.17" height="5.7" fill="#ffd1d1"/>
<rect x="635.01" y="351.3" width="3.17" height="5.7" fill="#ffbfbf"/>
<rect x="637.89" y="351.3" width="3.17" height="5.7" fill="#ffadad"/>
<rect x="640.76" y="351.3" width="3.17" height="5.7" fill="#ff9b9b"/>
<rect x="643.63" y="351.3" width="3.17" height="5.7" fill="#ff8989"/>
<rect x="646.50" y="351.3" width="3.17" height="5.7" fill="#ff7676"/>
<rect x="649.37" y="351.3" width="3.17" height="5.7" fill="#ff6464"/>
<rect x="652.24" y="351.3" width="3.17" height="5.7" fill="#ff5252"/>
<rect x="655.11" y="351.3" width="3.17" height="5.7" fill="#ff4040"/>
<rect x="657.99" y="351.3" width="3.17" height="5.7" fill="#ff2e2e"/>
<rect x="660.86" y="351.3" width="3.17" height="5.7" fill="#ff1b1b"/>
<rect x="663.73" y="351.3" width="3.17" height="5.7" fill="#ff0909"/>
<rect x="586.2" y="351.3" width="80.4" height="5.7" fill="none" stroke="#000" stroke-width="0.6"/>
<text x="586.2" y="367.6" text-anchor="middle" class="tl">0</text>
<path d="M620.1 357.0 v-1.8" stroke="#000" stroke-width="0.6"/>
<text x="620.1" y="367.6" text-anchor="middle" class="tl">750</text>
<path d="M654.0 357.0 v-1.8" stroke="#000" stroke-width="0.6"/>
<text x="654.0" y="367.6" text-anchor="middle" class="tl">1500</text>
<text x="627" y="348.4" text-anchor="middle" class="al">Temperature (°C)</text>
<path d="M580.3 384.7H599.8" stroke="#4a4ad8" stroke-width="1"/>
<text x="644.3" y="388.6" text-anchor="middle" class="al">650°C isotherm</text>
<path d="M580.3 404.2H599.8" stroke="#b48a8a" stroke-width="1"/>
<text x="644.5" y="408" text-anchor="middle" class="al">1000°C isotherm</text>
<text x="1.2" y="12.8" class="pl">a</text>
<text x="299.6" y="12.8" class="pl">b</text>
<text x="1.2" y="239.5" class="pl">c</text>
<text x="299.6" y="239.5" class="pl">d</text>
</svg>
</body></html>
